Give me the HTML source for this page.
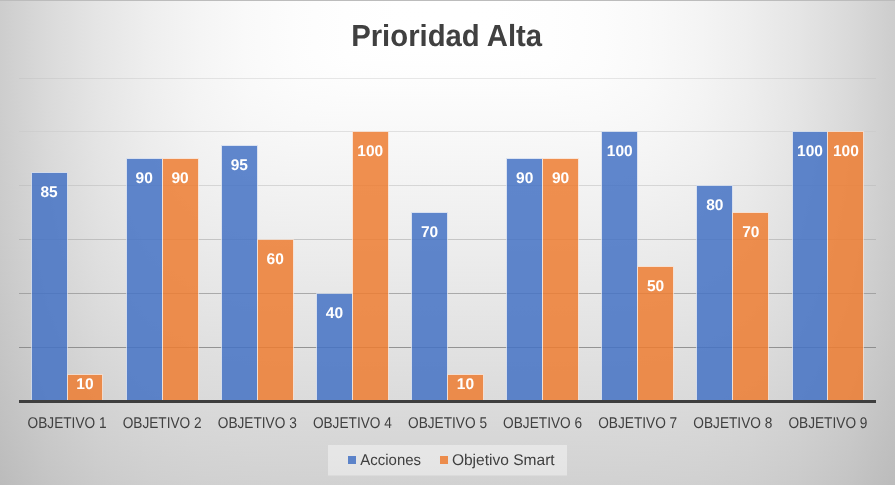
<!DOCTYPE html>
<html><head><meta charset="utf-8"><style>
html,body{margin:0;padding:0;}
body{width:895px;height:485px;overflow:hidden;position:relative;
background:#d0d0d0;}
svg{position:absolute;left:0;top:0;will-change:transform;}
#bg div{position:absolute;left:0;width:895px;}
.dl{font-family:"Liberation Sans",sans-serif;font-weight:bold;font-size:15.5px;fill:#ffffff;}
.cat{font-family:"Liberation Sans",sans-serif;font-size:15.5px;fill:#404040;}
.ttl{font-family:"Liberation Sans",sans-serif;font-weight:bold;font-size:30.5px;fill:#404040;}
.leg{font-family:"Liberation Sans",sans-serif;font-size:15.5px;fill:#404040;}
text{text-rendering:geometricPrecision;}
</style></head><body>
<div id="bg"><div style="top:1px;height:5px;background:linear-gradient(90deg,rgb(205.0,205.0,205.0) 0.0px,rgb(218.1,218.1,218.1) 47.5px,rgb(229.2,229.2,229.2) 97.5px,rgb(238.0,238.0,238.0) 147.5px,rgb(244.6,244.6,244.6) 197.5px,rgb(249.3,249.3,249.3) 247.5px,rgb(252.4,252.4,252.4) 297.5px,rgb(254.1,254.1,254.1) 347.5px,rgb(254.9,254.9,254.9) 397.5px,rgb(255.0,255.0,255.0) 447.5px,rgb(254.9,254.9,254.9) 497.5px,rgb(254.1,254.1,254.1) 547.5px,rgb(252.4,252.4,252.4) 597.5px,rgb(249.3,249.3,249.3) 647.5px,rgb(244.6,244.6,244.6) 697.5px,rgb(238.0,238.0,238.0) 747.5px,rgb(229.2,229.2,229.2) 797.5px,rgb(218.1,218.1,218.1) 847.5px,rgb(205.0,205.0,205.0) 895.0px)"></div><div style="top:6px;height:5px;background:linear-gradient(90deg,rgb(205.0,205.0,205.0) 0.0px,rgb(218.1,218.1,218.1) 47.5px,rgb(229.2,229.2,229.2) 97.5px,rgb(238.0,238.0,238.0) 147.5px,rgb(244.6,244.6,244.6) 197.5px,rgb(249.3,249.3,249.3) 247.5px,rgb(252.4,252.4,252.4) 297.5px,rgb(254.1,254.1,254.1) 347.5px,rgb(254.9,254.9,254.9) 397.5px,rgb(255.0,255.0,255.0) 447.5px,rgb(254.9,254.9,254.9) 497.5px,rgb(254.1,254.1,254.1) 547.5px,rgb(252.4,252.4,252.4) 597.5px,rgb(249.3,249.3,249.3) 647.5px,rgb(244.6,244.6,244.6) 697.5px,rgb(238.0,238.0,238.0) 747.5px,rgb(229.2,229.2,229.2) 797.5px,rgb(218.1,218.1,218.1) 847.5px,rgb(205.0,205.0,205.0) 895.0px)"></div><div style="top:11px;height:5px;background:linear-gradient(90deg,rgb(205.0,205.0,205.0) 0.0px,rgb(218.1,218.1,218.1) 47.5px,rgb(229.2,229.2,229.2) 97.5px,rgb(238.0,238.0,238.0) 147.5px,rgb(244.6,244.6,244.6) 197.5px,rgb(249.3,249.3,249.3) 247.5px,rgb(252.4,252.4,252.4) 297.5px,rgb(254.1,254.1,254.1) 347.5px,rgb(254.9,254.9,254.9) 397.5px,rgb(255.0,255.0,255.0) 447.5px,rgb(254.9,254.9,254.9) 497.5px,rgb(254.1,254.1,254.1) 547.5px,rgb(252.4,252.4,252.4) 597.5px,rgb(249.3,249.3,249.3) 647.5px,rgb(244.6,244.6,244.6) 697.5px,rgb(238.0,238.0,238.0) 747.5px,rgb(229.2,229.2,229.2) 797.5px,rgb(218.1,218.1,218.1) 847.5px,rgb(205.0,205.0,205.0) 895.0px)"></div><div style="top:16px;height:5px;background:linear-gradient(90deg,rgb(205.0,205.0,205.0) 0.0px,rgb(218.1,218.1,218.1) 47.5px,rgb(229.2,229.2,229.2) 97.5px,rgb(238.0,238.0,238.0) 147.5px,rgb(244.6,244.6,244.6) 197.5px,rgb(249.3,249.3,249.3) 247.5px,rgb(252.4,252.4,252.4) 297.5px,rgb(254.1,254.1,254.1) 347.5px,rgb(254.9,254.9,254.9) 397.5px,rgb(255.0,255.0,255.0) 447.5px,rgb(254.9,254.9,254.9) 497.5px,rgb(254.1,254.1,254.1) 547.5px,rgb(252.4,252.4,252.4) 597.5px,rgb(249.3,249.3,249.3) 647.5px,rgb(244.6,244.6,244.6) 697.5px,rgb(238.0,238.0,238.0) 747.5px,rgb(229.2,229.2,229.2) 797.5px,rgb(218.1,218.1,218.1) 847.5px,rgb(205.0,205.0,205.0) 895.0px)"></div><div style="top:21px;height:5px;background:linear-gradient(90deg,rgb(205.0,205.0,205.0) 0.0px,rgb(218.1,218.1,218.1) 47.5px,rgb(229.2,229.2,229.2) 97.5px,rgb(238.0,238.0,238.0) 147.5px,rgb(244.6,244.6,244.6) 197.5px,rgb(249.3,249.3,249.3) 247.5px,rgb(252.4,252.4,252.4) 297.5px,rgb(254.1,254.1,254.1) 347.5px,rgb(254.9,254.9,254.9) 397.5px,rgb(255.0,255.0,255.0) 447.5px,rgb(254.9,254.9,254.9) 497.5px,rgb(254.1,254.1,254.1) 547.5px,rgb(252.4,252.4,252.4) 597.5px,rgb(249.3,249.3,249.3) 647.5px,rgb(244.6,244.6,244.6) 697.5px,rgb(238.0,238.0,238.0) 747.5px,rgb(229.2,229.2,229.2) 797.5px,rgb(218.1,218.1,218.1) 847.5px,rgb(205.0,205.0,205.0) 895.0px)"></div><div style="top:26px;height:5px;background:linear-gradient(90deg,rgb(205.0,205.0,205.0) 0.0px,rgb(218.1,218.1,218.1) 47.5px,rgb(229.2,229.2,229.2) 97.5px,rgb(238.0,238.0,238.0) 147.5px,rgb(244.6,244.6,244.6) 197.5px,rgb(249.3,249.3,249.3) 247.5px,rgb(252.4,252.4,252.4) 297.5px,rgb(254.1,254.1,254.1) 347.5px,rgb(254.9,254.9,254.9) 397.5px,rgb(255.0,255.0,255.0) 447.5px,rgb(254.9,254.9,254.9) 497.5px,rgb(254.1,254.1,254.1) 547.5px,rgb(252.4,252.4,252.4) 597.5px,rgb(249.3,249.3,249.3) 647.5px,rgb(244.6,244.6,244.6) 697.5px,rgb(238.0,238.0,238.0) 747.5px,rgb(229.2,229.2,229.2) 797.5px,rgb(218.1,218.1,218.1) 847.5px,rgb(205.0,205.0,205.0) 895.0px)"></div><div style="top:31px;height:5px;background:linear-gradient(90deg,rgb(205.0,205.0,205.0) 0.0px,rgb(218.1,218.1,218.1) 47.5px,rgb(229.2,229.2,229.2) 97.5px,rgb(238.0,238.0,238.0) 147.5px,rgb(244.6,244.6,244.6) 197.5px,rgb(249.3,249.3,249.3) 247.5px,rgb(252.4,252.4,252.4) 297.5px,rgb(254.1,254.1,254.1) 347.5px,rgb(254.9,254.9,254.9) 397.5px,rgb(255.0,255.0,255.0) 447.5px,rgb(254.9,254.9,254.9) 497.5px,rgb(254.1,254.1,254.1) 547.5px,rgb(252.4,252.4,252.4) 597.5px,rgb(249.3,249.3,249.3) 647.5px,rgb(244.6,244.6,244.6) 697.5px,rgb(238.0,238.0,238.0) 747.5px,rgb(229.2,229.2,229.2) 797.5px,rgb(218.1,218.1,218.1) 847.5px,rgb(205.0,205.0,205.0) 895.0px)"></div><div style="top:36px;height:5px;background:linear-gradient(90deg,rgb(205.0,205.0,205.0) 0.0px,rgb(218.1,218.1,218.1) 47.5px,rgb(229.2,229.2,229.2) 97.5px,rgb(238.0,238.0,238.0) 147.5px,rgb(244.6,244.6,244.6) 197.5px,rgb(249.3,249.3,249.3) 247.5px,rgb(252.4,252.4,252.4) 297.5px,rgb(254.1,254.1,254.1) 347.5px,rgb(254.9,254.9,254.9) 397.5px,rgb(255.0,255.0,255.0) 447.5px,rgb(254.9,254.9,254.9) 497.5px,rgb(254.1,254.1,254.1) 547.5px,rgb(252.4,252.4,252.4) 597.5px,rgb(249.3,249.3,249.3) 647.5px,rgb(244.6,244.6,244.6) 697.5px,rgb(238.0,238.0,238.0) 747.5px,rgb(229.2,229.2,229.2) 797.5px,rgb(218.1,218.1,218.1) 847.5px,rgb(205.0,205.0,205.0) 895.0px)"></div><div style="top:41px;height:5px;background:linear-gradient(90deg,rgb(205.0,205.0,205.0) 0.0px,rgb(218.1,218.1,218.1) 47.5px,rgb(229.2,229.2,229.2) 97.5px,rgb(238.0,238.0,238.0) 147.5px,rgb(244.6,244.6,244.6) 197.5px,rgb(249.3,249.3,249.3) 247.5px,rgb(252.4,252.4,252.4) 297.5px,rgb(254.1,254.1,254.1) 347.5px,rgb(254.9,254.9,254.9) 397.5px,rgb(255.0,255.0,255.0) 447.5px,rgb(254.9,254.9,254.9) 497.5px,rgb(254.1,254.1,254.1) 547.5px,rgb(252.4,252.4,252.4) 597.5px,rgb(249.3,249.3,249.3) 647.5px,rgb(244.6,244.6,244.6) 697.5px,rgb(238.0,238.0,238.0) 747.5px,rgb(229.2,229.2,229.2) 797.5px,rgb(218.1,218.1,218.1) 847.5px,rgb(205.0,205.0,205.0) 895.0px)"></div><div style="top:46px;height:5px;background:linear-gradient(90deg,rgb(205.0,205.0,205.0) 0.0px,rgb(218.1,218.1,218.1) 47.5px,rgb(229.2,229.2,229.2) 97.5px,rgb(238.0,238.0,238.0) 147.5px,rgb(244.6,244.6,244.6) 197.5px,rgb(249.3,249.3,249.3) 247.5px,rgb(252.4,252.4,252.4) 297.5px,rgb(254.1,254.1,254.1) 347.5px,rgb(254.9,254.9,254.9) 397.5px,rgb(255.0,255.0,255.0) 447.5px,rgb(254.9,254.9,254.9) 497.5px,rgb(254.1,254.1,254.1) 547.5px,rgb(252.4,252.4,252.4) 597.5px,rgb(249.3,249.3,249.3) 647.5px,rgb(244.6,244.6,244.6) 697.5px,rgb(238.0,238.0,238.0) 747.5px,rgb(229.2,229.2,229.2) 797.5px,rgb(218.1,218.1,218.1) 847.5px,rgb(205.0,205.0,205.0) 895.0px)"></div><div style="top:51px;height:5px;background:linear-gradient(90deg,rgb(205.0,205.0,205.0) 0.0px,rgb(218.1,218.1,218.1) 47.5px,rgb(229.2,229.2,229.2) 97.5px,rgb(238.0,238.0,238.0) 147.5px,rgb(244.6,244.6,244.6) 197.5px,rgb(249.3,249.3,249.3) 247.5px,rgb(252.4,252.4,252.4) 297.5px,rgb(254.1,254.1,254.1) 347.5px,rgb(254.8,254.8,254.8) 397.5px,rgb(254.8,254.8,254.8) 447.5px,rgb(254.8,254.8,254.8) 497.5px,rgb(254.1,254.1,254.1) 547.5px,rgb(252.4,252.4,252.4) 597.5px,rgb(249.3,249.3,249.3) 647.5px,rgb(244.6,244.6,244.6) 697.5px,rgb(238.0,238.0,238.0) 747.5px,rgb(229.2,229.2,229.2) 797.5px,rgb(218.1,218.1,218.1) 847.5px,rgb(205.0,205.0,205.0) 895.0px)"></div><div style="top:56px;height:5px;background:linear-gradient(90deg,rgb(205.0,205.0,205.0) 0.0px,rgb(218.1,218.1,218.1) 47.5px,rgb(229.2,229.2,229.2) 97.5px,rgb(238.0,238.0,238.0) 147.5px,rgb(244.6,244.6,244.6) 197.5px,rgb(249.3,249.3,249.3) 247.5px,rgb(252.3,252.3,252.3) 297.5px,rgb(254.0,254.0,254.0) 347.5px,rgb(254.5,254.5,254.5) 397.5px,rgb(254.5,254.5,254.5) 447.5px,rgb(254.5,254.5,254.5) 497.5px,rgb(254.0,254.0,254.0) 547.5px,rgb(252.3,252.3,252.3) 597.5px,rgb(249.3,249.3,249.3) 647.5px,rgb(244.6,244.6,244.6) 697.5px,rgb(238.0,238.0,238.0) 747.5px,rgb(229.2,229.2,229.2) 797.5px,rgb(218.1,218.1,218.1) 847.5px,rgb(205.0,205.0,205.0) 895.0px)"></div><div style="top:61px;height:5px;background:linear-gradient(90deg,rgb(205.0,205.0,205.0) 0.0px,rgb(218.1,218.1,218.1) 47.5px,rgb(229.2,229.2,229.2) 97.5px,rgb(238.0,238.0,238.0) 147.5px,rgb(244.6,244.6,244.6) 197.5px,rgb(249.3,249.3,249.3) 247.5px,rgb(252.3,252.3,252.3) 297.5px,rgb(253.8,253.8,253.8) 347.5px,rgb(254.1,254.1,254.1) 397.5px,rgb(254.2,254.2,254.2) 447.5px,rgb(254.1,254.1,254.1) 497.5px,rgb(253.8,253.8,253.8) 547.5px,rgb(252.3,252.3,252.3) 597.5px,rgb(249.3,249.3,249.3) 647.5px,rgb(244.6,244.6,244.6) 697.5px,rgb(238.0,238.0,238.0) 747.5px,rgb(229.2,229.2,229.2) 797.5px,rgb(218.1,218.1,218.1) 847.5px,rgb(205.0,205.0,205.0) 895.0px)"></div><div style="top:66px;height:5px;background:linear-gradient(90deg,rgb(205.0,205.0,205.0) 0.0px,rgb(218.0,218.0,218.0) 47.5px,rgb(229.2,229.2,229.2) 97.5px,rgb(238.0,238.0,238.0) 147.5px,rgb(244.5,244.5,244.5) 197.5px,rgb(249.2,249.2,249.2) 247.5px,rgb(252.1,252.1,252.1) 297.5px,rgb(253.5,253.5,253.5) 347.5px,rgb(253.8,253.8,253.8) 397.5px,rgb(253.8,253.8,253.8) 447.5px,rgb(253.8,253.8,253.8) 497.5px,rgb(253.5,253.5,253.5) 547.5px,rgb(252.1,252.1,252.1) 597.5px,rgb(249.2,249.2,249.2) 647.5px,rgb(244.5,244.5,244.5) 697.5px,rgb(238.0,238.0,238.0) 747.5px,rgb(229.2,229.2,229.2) 797.5px,rgb(218.0,218.0,218.0) 847.5px,rgb(205.0,205.0,205.0) 895.0px)"></div><div style="top:71px;height:5px;background:linear-gradient(90deg,rgb(205.0,205.0,205.0) 0.0px,rgb(218.0,218.0,218.0) 47.5px,rgb(229.2,229.2,229.2) 97.5px,rgb(237.9,237.9,237.9) 147.5px,rgb(244.5,244.5,244.5) 197.5px,rgb(249.1,249.1,249.1) 247.5px,rgb(251.9,251.9,251.9) 297.5px,rgb(253.2,253.2,253.2) 347.5px,rgb(253.4,253.4,253.4) 397.5px,rgb(253.4,253.4,253.4) 447.5px,rgb(253.4,253.4,253.4) 497.5px,rgb(253.2,253.2,253.2) 547.5px,rgb(251.9,251.9,251.9) 597.5px,rgb(249.1,249.1,249.1) 647.5px,rgb(244.5,244.5,244.5) 697.5px,rgb(237.9,237.9,237.9) 747.5px,rgb(229.2,229.2,229.2) 797.5px,rgb(218.0,218.0,218.0) 847.5px,rgb(205.0,205.0,205.0) 895.0px)"></div><div style="top:76px;height:5px;background:linear-gradient(90deg,rgb(205.0,205.0,205.0) 0.0px,rgb(218.0,218.0,218.0) 47.5px,rgb(229.2,229.2,229.2) 97.5px,rgb(237.9,237.9,237.9) 147.5px,rgb(244.4,244.4,244.4) 197.5px,rgb(249.0,249.0,249.0) 247.5px,rgb(251.7,251.7,251.7) 297.5px,rgb(252.8,252.8,252.8) 347.5px,rgb(253.0,253.0,253.0) 397.5px,rgb(253.0,253.0,253.0) 447.5px,rgb(253.0,253.0,253.0) 497.5px,rgb(252.8,252.8,252.8) 547.5px,rgb(251.7,251.7,251.7) 597.5px,rgb(249.0,249.0,249.0) 647.5px,rgb(244.4,244.4,244.4) 697.5px,rgb(237.9,237.9,237.9) 747.5px,rgb(229.2,229.2,229.2) 797.5px,rgb(218.0,218.0,218.0) 847.5px,rgb(205.0,205.0,205.0) 895.0px)"></div><div style="top:81px;height:5px;background:linear-gradient(90deg,rgb(204.9,204.9,204.9) 0.0px,rgb(218.0,218.0,218.0) 47.5px,rgb(229.1,229.1,229.1) 97.5px,rgb(237.8,237.8,237.8) 147.5px,rgb(244.3,244.3,244.3) 197.5px,rgb(248.8,248.8,248.8) 247.5px,rgb(251.5,251.5,251.5) 297.5px,rgb(252.5,252.5,252.5) 347.5px,rgb(252.6,252.6,252.6) 397.5px,rgb(252.6,252.6,252.6) 447.5px,rgb(252.6,252.6,252.6) 497.5px,rgb(252.5,252.5,252.5) 547.5px,rgb(251.5,251.5,251.5) 597.5px,rgb(248.8,248.8,248.8) 647.5px,rgb(244.3,244.3,244.3) 697.5px,rgb(237.8,237.8,237.8) 747.5px,rgb(229.1,229.1,229.1) 797.5px,rgb(218.0,218.0,218.0) 847.5px,rgb(204.9,204.9,204.9) 895.0px)"></div><div style="top:86px;height:5px;background:linear-gradient(90deg,rgb(204.9,204.9,204.9) 0.0px,rgb(218.0,218.0,218.0) 47.5px,rgb(229.1,229.1,229.1) 97.5px,rgb(237.8,237.8,237.8) 147.5px,rgb(244.2,244.2,244.2) 197.5px,rgb(248.7,248.7,248.7) 247.5px,rgb(251.2,251.2,251.2) 297.5px,rgb(252.1,252.1,252.1) 347.5px,rgb(252.2,252.2,252.2) 397.5px,rgb(252.2,252.2,252.2) 447.5px,rgb(252.2,252.2,252.2) 497.5px,rgb(252.1,252.1,252.1) 547.5px,rgb(251.2,251.2,251.2) 597.5px,rgb(248.7,248.7,248.7) 647.5px,rgb(244.2,244.2,244.2) 697.5px,rgb(237.8,237.8,237.8) 747.5px,rgb(229.1,229.1,229.1) 797.5px,rgb(218.0,218.0,218.0) 847.5px,rgb(204.9,204.9,204.9) 895.0px)"></div><div style="top:91px;height:5px;background:linear-gradient(90deg,rgb(204.9,204.9,204.9) 0.0px,rgb(217.9,217.9,217.9) 47.5px,rgb(229.0,229.0,229.0) 97.5px,rgb(237.7,237.7,237.7) 147.5px,rgb(244.1,244.1,244.1) 197.5px,rgb(248.5,248.5,248.5) 247.5px,rgb(250.8,250.8,250.8) 297.5px,rgb(251.7,251.7,251.7) 347.5px,rgb(251.8,251.8,251.8) 397.5px,rgb(251.8,251.8,251.8) 447.5px,rgb(251.8,251.8,251.8) 497.5px,rgb(251.7,251.7,251.7) 547.5px,rgb(250.8,250.8,250.8) 597.5px,rgb(248.5,248.5,248.5) 647.5px,rgb(244.1,244.1,244.1) 697.5px,rgb(237.7,237.7,237.7) 747.5px,rgb(229.0,229.0,229.0) 797.5px,rgb(217.9,217.9,217.9) 847.5px,rgb(204.9,204.9,204.9) 895.0px)"></div><div style="top:96px;height:5px;background:linear-gradient(90deg,rgb(204.9,204.9,204.9) 0.0px,rgb(217.9,217.9,217.9) 47.5px,rgb(229.0,229.0,229.0) 97.5px,rgb(237.6,237.6,237.6) 147.5px,rgb(244.0,244.0,244.0) 197.5px,rgb(248.2,248.2,248.2) 247.5px,rgb(250.5,250.5,250.5) 297.5px,rgb(251.2,251.2,251.2) 347.5px,rgb(251.3,251.3,251.3) 397.5px,rgb(251.3,251.3,251.3) 447.5px,rgb(251.3,251.3,251.3) 497.5px,rgb(251.2,251.2,251.2) 547.5px,rgb(250.5,250.5,250.5) 597.5px,rgb(248.2,248.2,248.2) 647.5px,rgb(244.0,244.0,244.0) 697.5px,rgb(237.6,237.6,237.6) 747.5px,rgb(229.0,229.0,229.0) 797.5px,rgb(217.9,217.9,217.9) 847.5px,rgb(204.9,204.9,204.9) 895.0px)"></div><div style="top:101px;height:5px;background:linear-gradient(90deg,rgb(204.8,204.8,204.8) 0.0px,rgb(217.8,217.8,217.8) 47.5px,rgb(228.9,228.9,228.9) 97.5px,rgb(237.5,237.5,237.5) 147.5px,rgb(243.8,243.8,243.8) 197.5px,rgb(248.0,248.0,248.0) 247.5px,rgb(250.1,250.1,250.1) 297.5px,rgb(250.8,250.8,250.8) 347.5px,rgb(250.9,250.9,250.9) 397.5px,rgb(250.9,250.9,250.9) 447.5px,rgb(250.9,250.9,250.9) 497.5px,rgb(250.8,250.8,250.8) 547.5px,rgb(250.1,250.1,250.1) 597.5px,rgb(248.0,248.0,248.0) 647.5px,rgb(243.8,243.8,243.8) 697.5px,rgb(237.5,237.5,237.5) 747.5px,rgb(228.9,228.9,228.9) 797.5px,rgb(217.8,217.8,217.8) 847.5px,rgb(204.8,204.8,204.8) 895.0px)"></div><div style="top:106px;height:5px;background:linear-gradient(90deg,rgb(204.8,204.8,204.8) 0.0px,rgb(217.8,217.8,217.8) 47.5px,rgb(228.9,228.9,228.9) 97.5px,rgb(237.4,237.4,237.4) 147.5px,rgb(243.7,243.7,243.7) 197.5px,rgb(247.7,247.7,247.7) 247.5px,rgb(249.8,249.8,249.8) 297.5px,rgb(250.4,250.4,250.4) 347.5px,rgb(250.5,250.5,250.5) 397.5px,rgb(250.5,250.5,250.5) 447.5px,rgb(250.5,250.5,250.5) 497.5px,rgb(250.4,250.4,250.4) 547.5px,rgb(249.8,249.8,249.8) 597.5px,rgb(247.7,247.7,247.7) 647.5px,rgb(243.7,243.7,243.7) 697.5px,rgb(237.4,237.4,237.4) 747.5px,rgb(228.9,228.9,228.9) 797.5px,rgb(217.8,217.8,217.8) 847.5px,rgb(204.8,204.8,204.8) 895.0px)"></div><div style="top:111px;height:5px;background:linear-gradient(90deg,rgb(204.8,204.8,204.8) 0.0px,rgb(217.7,217.7,217.7) 47.5px,rgb(228.8,228.8,228.8) 97.5px,rgb(237.3,237.3,237.3) 147.5px,rgb(243.5,243.5,243.5) 197.5px,rgb(247.4,247.4,247.4) 247.5px,rgb(249.4,249.4,249.4) 297.5px,rgb(249.9,249.9,249.9) 347.5px,rgb(250.0,250.0,250.0) 397.5px,rgb(250.0,250.0,250.0) 447.5px,rgb(250.0,250.0,250.0) 497.5px,rgb(249.9,249.9,249.9) 547.5px,rgb(249.4,249.4,249.4) 597.5px,rgb(247.4,247.4,247.4) 647.5px,rgb(243.5,243.5,243.5) 697.5px,rgb(237.3,237.3,237.3) 747.5px,rgb(228.8,228.8,228.8) 797.5px,rgb(217.7,217.7,217.7) 847.5px,rgb(204.8,204.8,204.8) 895.0px)"></div><div style="top:116px;height:5px;background:linear-gradient(90deg,rgb(204.7,204.7,204.7) 0.0px,rgb(217.7,217.7,217.7) 47.5px,rgb(228.7,228.7,228.7) 97.5px,rgb(237.2,237.2,237.2) 147.5px,rgb(243.3,243.3,243.3) 197.5px,rgb(247.1,247.1,247.1) 247.5px,rgb(249.0,249.0,249.0) 297.5px,rgb(249.5,249.5,249.5) 347.5px,rgb(249.6,249.6,249.6) 397.5px,rgb(249.6,249.6,249.6) 447.5px,rgb(249.6,249.6,249.6) 497.5px,rgb(249.5,249.5,249.5) 547.5px,rgb(249.0,249.0,249.0) 597.5px,rgb(247.1,247.1,247.1) 647.5px,rgb(243.3,243.3,243.3) 697.5px,rgb(237.2,237.2,237.2) 747.5px,rgb(228.7,228.7,228.7) 797.5px,rgb(217.7,217.7,217.7) 847.5px,rgb(204.7,204.7,204.7) 895.0px)"></div><div style="top:121px;height:5px;background:linear-gradient(90deg,rgb(204.7,204.7,204.7) 0.0px,rgb(217.6,217.6,217.6) 47.5px,rgb(228.6,228.6,228.6) 97.5px,rgb(237.0,237.0,237.0) 147.5px,rgb(243.1,243.1,243.1) 197.5px,rgb(246.8,246.8,246.8) 247.5px,rgb(248.5,248.5,248.5) 297.5px,rgb(249.0,249.0,249.0) 347.5px,rgb(249.1,249.1,249.1) 397.5px,rgb(249.1,249.1,249.1) 447.5px,rgb(249.1,249.1,249.1) 497.5px,rgb(249.0,249.0,249.0) 547.5px,rgb(248.5,248.5,248.5) 597.5px,rgb(246.8,246.8,246.8) 647.5px,rgb(243.1,243.1,243.1) 697.5px,rgb(237.0,237.0,237.0) 747.5px,rgb(228.6,228.6,228.6) 797.5px,rgb(217.6,217.6,217.6) 847.5px,rgb(204.7,204.7,204.7) 895.0px)"></div><div style="top:126px;height:5px;background:linear-gradient(90deg,rgb(204.6,204.6,204.6) 0.0px,rgb(217.5,217.5,217.5) 47.5px,rgb(228.5,228.5,228.5) 97.5px,rgb(236.9,236.9,236.9) 147.5px,rgb(242.8,242.8,242.8) 197.5px,rgb(246.5,246.5,246.5) 247.5px,rgb(248.1,248.1,248.1) 297.5px,rgb(248.6,248.6,248.6) 347.5px,rgb(248.6,248.6,248.6) 397.5px,rgb(248.6,248.6,248.6) 447.5px,rgb(248.6,248.6,248.6) 497.5px,rgb(248.6,248.6,248.6) 547.5px,rgb(248.1,248.1,248.1) 597.5px,rgb(246.5,246.5,246.5) 647.5px,rgb(242.8,242.8,242.8) 697.5px,rgb(236.9,236.9,236.9) 747.5px,rgb(228.5,228.5,228.5) 797.5px,rgb(217.5,217.5,217.5) 847.5px,rgb(204.6,204.6,204.6) 895.0px)"></div><div style="top:131px;height:5px;background:linear-gradient(90deg,rgb(204.5,204.5,204.5) 0.0px,rgb(217.4,217.4,217.4) 47.5px,rgb(228.4,228.4,228.4) 97.5px,rgb(236.7,236.7,236.7) 147.5px,rgb(242.6,242.6,242.6) 197.5px,rgb(246.1,246.1,246.1) 247.5px,rgb(247.7,247.7,247.7) 297.5px,rgb(248.1,248.1,248.1) 347.5px,rgb(248.2,248.2,248.2) 397.5px,rgb(248.2,248.2,248.2) 447.5px,rgb(248.2,248.2,248.2) 497.5px,rgb(248.1,248.1,248.1) 547.5px,rgb(247.7,247.7,247.7) 597.5px,rgb(246.1,246.1,246.1) 647.5px,rgb(242.6,242.6,242.6) 697.5px,rgb(236.7,236.7,236.7) 747.5px,rgb(228.4,228.4,228.4) 797.5px,rgb(217.4,217.4,217.4) 847.5px,rgb(204.5,204.5,204.5) 895.0px)"></div><div style="top:136px;height:5px;background:linear-gradient(90deg,rgb(204.5,204.5,204.5) 0.0px,rgb(217.4,217.4,217.4) 47.5px,rgb(228.2,228.2,228.2) 97.5px,rgb(236.5,236.5,236.5) 147.5px,rgb(242.3,242.3,242.3) 197.5px,rgb(245.7,245.7,245.7) 247.5px,rgb(247.2,247.2,247.2) 297.5px,rgb(247.6,247.6,247.6) 347.5px,rgb(247.7,247.7,247.7) 397.5px,rgb(247.7,247.7,247.7) 447.5px,rgb(247.7,247.7,247.7) 497.5px,rgb(247.6,247.6,247.6) 547.5px,rgb(247.2,247.2,247.2) 597.5px,rgb(245.7,245.7,245.7) 647.5px,rgb(242.3,242.3,242.3) 697.5px,rgb(236.5,236.5,236.5) 747.5px,rgb(228.2,228.2,228.2) 797.5px,rgb(217.4,217.4,217.4) 847.5px,rgb(204.5,204.5,204.5) 895.0px)"></div><div style="top:141px;height:5px;background:linear-gradient(90deg,rgb(204.4,204.4,204.4) 0.0px,rgb(217.3,217.3,217.3) 47.5px,rgb(228.1,228.1,228.1) 97.5px,rgb(236.3,236.3,236.3) 147.5px,rgb(242.0,242.0,242.0) 197.5px,rgb(245.4,245.4,245.4) 247.5px,rgb(246.8,246.8,246.8) 297.5px,rgb(247.2,247.2,247.2) 347.5px,rgb(247.2,247.2,247.2) 397.5px,rgb(247.2,247.2,247.2) 447.5px,rgb(247.2,247.2,247.2) 497.5px,rgb(247.2,247.2,247.2) 547.5px,rgb(246.8,246.8,246.8) 597.5px,rgb(245.4,245.4,245.4) 647.5px,rgb(242.0,242.0,242.0) 697.5px,rgb(236.3,236.3,236.3) 747.5px,rgb(228.1,228.1,228.1) 797.5px,rgb(217.3,217.3,217.3) 847.5px,rgb(204.4,204.4,204.4) 895.0px)"></div><div style="top:146px;height:5px;background:linear-gradient(90deg,rgb(204.3,204.3,204.3) 0.0px,rgb(217.2,217.2,217.2) 47.5px,rgb(228.0,228.0,228.0) 97.5px,rgb(236.1,236.1,236.1) 147.5px,rgb(241.7,241.7,241.7) 197.5px,rgb(245.0,245.0,245.0) 247.5px,rgb(246.3,246.3,246.3) 297.5px,rgb(246.7,246.7,246.7) 347.5px,rgb(246.7,246.7,246.7) 397.5px,rgb(246.7,246.7,246.7) 447.5px,rgb(246.7,246.7,246.7) 497.5px,rgb(246.7,246.7,246.7) 547.5px,rgb(246.3,246.3,246.3) 597.5px,rgb(245.0,245.0,245.0) 647.5px,rgb(241.7,241.7,241.7) 697.5px,rgb(236.1,236.1,236.1) 747.5px,rgb(228.0,228.0,228.0) 797.5px,rgb(217.2,217.2,217.2) 847.5px,rgb(204.3,204.3,204.3) 895.0px)"></div><div style="top:151px;height:5px;background:linear-gradient(90deg,rgb(204.2,204.2,204.2) 0.0px,rgb(217.0,217.0,217.0) 47.5px,rgb(227.8,227.8,227.8) 97.5px,rgb(235.9,235.9,235.9) 147.5px,rgb(241.4,241.4,241.4) 197.5px,rgb(244.6,244.6,244.6) 247.5px,rgb(245.9,245.9,245.9) 297.5px,rgb(246.2,246.2,246.2) 347.5px,rgb(246.3,246.3,246.3) 397.5px,rgb(246.3,246.3,246.3) 447.5px,rgb(246.3,246.3,246.3) 497.5px,rgb(246.2,246.2,246.2) 547.5px,rgb(245.9,245.9,245.9) 597.5px,rgb(244.6,244.6,244.6) 647.5px,rgb(241.4,241.4,241.4) 697.5px,rgb(235.9,235.9,235.9) 747.5px,rgb(227.8,227.8,227.8) 797.5px,rgb(217.0,217.0,217.0) 847.5px,rgb(204.2,204.2,204.2) 895.0px)"></div><div style="top:156px;height:5px;background:linear-gradient(90deg,rgb(204.2,204.2,204.2) 0.0px,rgb(216.9,216.9,216.9) 47.5px,rgb(227.6,227.6,227.6) 97.5px,rgb(235.7,235.7,235.7) 147.5px,rgb(241.1,241.1,241.1) 197.5px,rgb(244.2,244.2,244.2) 247.5px,rgb(245.4,245.4,245.4) 297.5px,rgb(245.7,245.7,245.7) 347.5px,rgb(245.8,245.8,245.8) 397.5px,rgb(245.8,245.8,245.8) 447.5px,rgb(245.8,245.8,245.8) 497.5px,rgb(245.7,245.7,245.7) 547.5px,rgb(245.4,245.4,245.4) 597.5px,rgb(244.2,244.2,244.2) 647.5px,rgb(241.1,241.1,241.1) 697.5px,rgb(235.7,235.7,235.7) 747.5px,rgb(227.6,227.6,227.6) 797.5px,rgb(216.9,216.9,216.9) 847.5px,rgb(204.2,204.2,204.2) 895.0px)"></div><div style="top:161px;height:5px;background:linear-gradient(90deg,rgb(204.1,204.1,204.1) 0.0px,rgb(216.8,216.8,216.8) 47.5px,rgb(227.5,227.5,227.5) 97.5px,rgb(235.4,235.4,235.4) 147.5px,rgb(240.8,240.8,240.8) 197.5px,rgb(243.7,243.7,243.7) 247.5px,rgb(244.9,244.9,244.9) 297.5px,rgb(245.2,245.2,245.2) 347.5px,rgb(245.3,245.3,245.3) 397.5px,rgb(245.3,245.3,245.3) 447.5px,rgb(245.3,245.3,245.3) 497.5px,rgb(245.2,245.2,245.2) 547.5px,rgb(244.9,244.9,244.9) 597.5px,rgb(243.7,243.7,243.7) 647.5px,rgb(240.8,240.8,240.8) 697.5px,rgb(235.4,235.4,235.4) 747.5px,rgb(227.5,227.5,227.5) 797.5px,rgb(216.8,216.8,216.8) 847.5px,rgb(204.1,204.1,204.1) 895.0px)"></div><div style="top:166px;height:5px;background:linear-gradient(90deg,rgb(204.0,204.0,204.0) 0.0px,rgb(216.7,216.7,216.7) 47.5px,rgb(227.3,227.3,227.3) 97.5px,rgb(235.2,235.2,235.2) 147.5px,rgb(240.4,240.4,240.4) 197.5px,rgb(243.3,243.3,243.3) 247.5px,rgb(244.4,244.4,244.4) 297.5px,rgb(244.7,244.7,244.7) 347.5px,rgb(244.8,244.8,244.8) 397.5px,rgb(244.8,244.8,244.8) 447.5px,rgb(244.8,244.8,244.8) 497.5px,rgb(244.7,244.7,244.7) 547.5px,rgb(244.4,244.4,244.4) 597.5px,rgb(243.3,243.3,243.3) 647.5px,rgb(240.4,240.4,240.4) 697.5px,rgb(235.2,235.2,235.2) 747.5px,rgb(227.3,227.3,227.3) 797.5px,rgb(216.7,216.7,216.7) 847.5px,rgb(204.0,204.0,204.0) 895.0px)"></div><div style="top:171px;height:5px;background:linear-gradient(90deg,rgb(203.9,203.9,203.9) 0.0px,rgb(216.5,216.5,216.5) 47.5px,rgb(227.1,227.1,227.1) 97.5px,rgb(234.9,234.9,234.9) 147.5px,rgb(240.1,240.1,240.1) 197.5px,rgb(242.9,242.9,242.9) 247.5px,rgb(244.0,244.0,244.0) 297.5px,rgb(244.2,244.2,244.2) 347.5px,rgb(244.3,244.3,244.3) 397.5px,rgb(244.3,244.3,244.3) 447.5px,rgb(244.3,244.3,244.3) 497.5px,rgb(244.2,244.2,244.2) 547.5px,rgb(244.0,244.0,244.0) 597.5px,rgb(242.9,242.9,242.9) 647.5px,rgb(240.1,240.1,240.1) 697.5px,rgb(234.9,234.9,234.9) 747.5px,rgb(227.1,227.1,227.1) 797.5px,rgb(216.5,216.5,216.5) 847.5px,rgb(203.9,203.9,203.9) 895.0px)"></div><div style="top:176px;height:5px;background:linear-gradient(90deg,rgb(203.8,203.8,203.8) 0.0px,rgb(216.4,216.4,216.4) 47.5px,rgb(226.9,226.9,226.9) 97.5px,rgb(234.6,234.6,234.6) 147.5px,rgb(239.7,239.7,239.7) 197.5px,rgb(242.4,242.4,242.4) 247.5px,rgb(243.5,243.5,243.5) 297.5px,rgb(243.7,243.7,243.7) 347.5px,rgb(243.8,243.8,243.8) 397.5px,rgb(243.8,243.8,243.8) 447.5px,rgb(243.8,243.8,243.8) 497.5px,rgb(243.7,243.7,243.7) 547.5px,rgb(243.5,243.5,243.5) 597.5px,rgb(242.4,242.4,242.4) 647.5px,rgb(239.7,239.7,239.7) 697.5px,rgb(234.6,234.6,234.6) 747.5px,rgb(226.9,226.9,226.9) 797.5px,rgb(216.4,216.4,216.4) 847.5px,rgb(203.8,203.8,203.8) 895.0px)"></div><div style="top:181px;height:5px;background:linear-gradient(90deg,rgb(203.6,203.6,203.6) 0.0px,rgb(216.3,216.3,216.3) 47.5px,rgb(226.7,226.7,226.7) 97.5px,rgb(234.4,234.4,234.4) 147.5px,rgb(239.3,239.3,239.3) 197.5px,rgb(242.0,242.0,242.0) 247.5px,rgb(243.0,243.0,243.0) 297.5px,rgb(243.2,243.2,243.2) 347.5px,rgb(243.3,243.3,243.3) 397.5px,rgb(243.3,243.3,243.3) 447.5px,rgb(243.3,243.3,243.3) 497.5px,rgb(243.2,243.2,243.2) 547.5px,rgb(243.0,243.0,243.0) 597.5px,rgb(242.0,242.0,242.0) 647.5px,rgb(239.3,239.3,239.3) 697.5px,rgb(234.4,234.4,234.4) 747.5px,rgb(226.7,226.7,226.7) 797.5px,rgb(216.3,216.3,216.3) 847.5px,rgb(203.6,203.6,203.6) 895.0px)"></div><div style="top:186px;height:5px;background:linear-gradient(90deg,rgb(203.5,203.5,203.5) 0.0px,rgb(216.1,216.1,216.1) 47.5px,rgb(226.5,226.5,226.5) 97.5px,rgb(234.1,234.1,234.1) 147.5px,rgb(239.0,239.0,239.0) 197.5px,rgb(241.5,241.5,241.5) 247.5px,rgb(242.5,242.5,242.5) 297.5px,rgb(242.7,242.7,242.7) 347.5px,rgb(242.8,242.8,242.8) 397.5px,rgb(242.8,242.8,242.8) 447.5px,rgb(242.8,242.8,242.8) 497.5px,rgb(242.7,242.7,242.7) 547.5px,rgb(242.5,242.5,242.5) 597.5px,rgb(241.5,241.5,241.5) 647.5px,rgb(239.0,239.0,239.0) 697.5px,rgb(234.1,234.1,234.1) 747.5px,rgb(226.5,226.5,226.5) 797.5px,rgb(216.1,216.1,216.1) 847.5px,rgb(203.5,203.5,203.5) 895.0px)"></div><div style="top:191px;height:5px;background:linear-gradient(90deg,rgb(203.4,203.4,203.4) 0.0px,rgb(215.9,215.9,215.9) 47.5px,rgb(226.3,226.3,226.3) 97.5px,rgb(233.8,233.8,233.8) 147.5px,rgb(238.6,238.6,238.6) 197.5px,rgb(241.1,241.1,241.1) 247.5px,rgb(242.0,242.0,242.0) 297.5px,rgb(242.2,242.2,242.2) 347.5px,rgb(242.3,242.3,242.3) 397.5px,rgb(242.3,242.3,242.3) 447.5px,rgb(242.3,242.3,242.3) 497.5px,rgb(242.2,242.2,242.2) 547.5px,rgb(242.0,242.0,242.0) 597.5px,rgb(241.1,241.1,241.1) 647.5px,rgb(238.6,238.6,238.6) 697.5px,rgb(233.8,233.8,233.8) 747.5px,rgb(226.3,226.3,226.3) 797.5px,rgb(215.9,215.9,215.9) 847.5px,rgb(203.4,203.4,203.4) 895.0px)"></div><div style="top:196px;height:5px;background:linear-gradient(90deg,rgb(203.3,203.3,203.3) 0.0px,rgb(215.8,215.8,215.8) 47.5px,rgb(226.0,226.0,226.0) 97.5px,rgb(233.5,233.5,233.5) 147.5px,rgb(238.2,238.2,238.2) 197.5px,rgb(240.6,240.6,240.6) 247.5px,rgb(241.5,241.5,241.5) 297.5px,rgb(241.7,241.7,241.7) 347.5px,rgb(241.7,241.7,241.7) 397.5px,rgb(241.8,241.8,241.8) 447.5px,rgb(241.7,241.7,241.7) 497.5px,rgb(241.7,241.7,241.7) 547.5px,rgb(241.5,241.5,241.5) 597.5px,rgb(240.6,240.6,240.6) 647.5px,rgb(238.2,238.2,238.2) 697.5px,rgb(233.5,233.5,233.5) 747.5px,rgb(226.0,226.0,226.0) 797.5px,rgb(215.8,215.8,215.8) 847.5px,rgb(203.3,203.3,203.3) 895.0px)"></div><div style="top:201px;height:5px;background:linear-gradient(90deg,rgb(203.1,203.1,203.1) 0.0px,rgb(215.6,215.6,215.6) 47.5px,rgb(225.8,225.8,225.8) 97.5px,rgb(233.1,233.1,233.1) 147.5px,rgb(237.8,237.8,237.8) 197.5px,rgb(240.1,240.1,240.1) 247.5px,rgb(241.0,241.0,241.0) 297.5px,rgb(241.2,241.2,241.2) 347.5px,rgb(241.2,241.2,241.2) 397.5px,rgb(241.2,241.2,241.2) 447.5px,rgb(241.2,241.2,241.2) 497.5px,rgb(241.2,241.2,241.2) 547.5px,rgb(241.0,241.0,241.0) 597.5px,rgb(240.1,240.1,240.1) 647.5px,rgb(237.8,237.8,237.8) 697.5px,rgb(233.1,233.1,233.1) 747.5px,rgb(225.8,225.8,225.8) 797.5px,rgb(215.6,215.6,215.6) 847.5px,rgb(203.1,203.1,203.1) 895.0px)"></div><div style="top:206px;height:5px;background:linear-gradient(90deg,rgb(203.0,203.0,203.0) 0.0px,rgb(215.4,215.4,215.4) 47.5px,rgb(225.6,225.6,225.6) 97.5px,rgb(232.8,232.8,232.8) 147.5px,rgb(237.3,237.3,237.3) 197.5px,rgb(239.6,239.6,239.6) 247.5px,rgb(240.5,240.5,240.5) 297.5px,rgb(240.7,240.7,240.7) 347.5px,rgb(240.7,240.7,240.7) 397.5px,rgb(240.7,240.7,240.7) 447.5px,rgb(240.7,240.7,240.7) 497.5px,rgb(240.7,240.7,240.7) 547.5px,rgb(240.5,240.5,240.5) 597.5px,rgb(239.6,239.6,239.6) 647.5px,rgb(237.3,237.3,237.3) 697.5px,rgb(232.8,232.8,232.8) 747.5px,rgb(225.6,225.6,225.6) 797.5px,rgb(215.4,215.4,215.4) 847.5px,rgb(203.0,203.0,203.0) 895.0px)"></div><div style="top:211px;height:5px;background:linear-gradient(90deg,rgb(202.9,202.9,202.9) 0.0px,rgb(215.2,215.2,215.2) 47.5px,rgb(225.3,225.3,225.3) 97.5px,rgb(232.5,232.5,232.5) 147.5px,rgb(236.9,236.9,236.9) 197.5px,rgb(239.1,239.1,239.1) 247.5px,rgb(240.0,240.0,240.0) 297.5px,rgb(240.2,240.2,240.2) 347.5px,rgb(240.2,240.2,240.2) 397.5px,rgb(240.2,240.2,240.2) 447.5px,rgb(240.2,240.2,240.2) 497.5px,rgb(240.2,240.2,240.2) 547.5px,rgb(240.0,240.0,240.0) 597.5px,rgb(239.1,239.1,239.1) 647.5px,rgb(236.9,236.9,236.9) 697.5px,rgb(232.5,232.5,232.5) 747.5px,rgb(225.3,225.3,225.3) 797.5px,rgb(215.2,215.2,215.2) 847.5px,rgb(202.9,202.9,202.9) 895.0px)"></div><div style="top:216px;height:5px;background:linear-gradient(90deg,rgb(202.7,202.7,202.7) 0.0px,rgb(215.0,215.0,215.0) 47.5px,rgb(225.0,225.0,225.0) 97.5px,rgb(232.1,232.1,232.1) 147.5px,rgb(236.5,236.5,236.5) 197.5px,rgb(238.7,238.7,238.7) 247.5px,rgb(239.5,239.5,239.5) 297.5px,rgb(239.7,239.7,239.7) 347.5px,rgb(239.7,239.7,239.7) 397.5px,rgb(239.7,239.7,239.7) 447.5px,rgb(239.7,239.7,239.7) 497.5px,rgb(239.7,239.7,239.7) 547.5px,rgb(239.5,239.5,239.5) 597.5px,rgb(238.7,238.7,238.7) 647.5px,rgb(236.5,236.5,236.5) 697.5px,rgb(232.1,232.1,232.1) 747.5px,rgb(225.0,225.0,225.0) 797.5px,rgb(215.0,215.0,215.0) 847.5px,rgb(202.7,202.7,202.7) 895.0px)"></div><div style="top:221px;height:5px;background:linear-gradient(90deg,rgb(202.5,202.5,202.5) 0.0px,rgb(214.8,214.8,214.8) 47.5px,rgb(224.8,224.8,224.8) 97.5px,rgb(231.8,231.8,231.8) 147.5px,rgb(236.1,236.1,236.1) 197.5px,rgb(238.2,238.2,238.2) 247.5px,rgb(238.9,238.9,238.9) 297.5px,rgb(239.1,239.1,239.1) 347.5px,rgb(239.2,239.2,239.2) 397.5px,rgb(239.2,239.2,239.2) 447.5px,rgb(239.2,239.2,239.2) 497.5px,rgb(239.1,239.1,239.1) 547.5px,rgb(238.9,238.9,238.9) 597.5px,rgb(238.2,238.2,238.2) 647.5px,rgb(236.1,236.1,236.1) 697.5px,rgb(231.8,231.8,231.8) 747.5px,rgb(224.8,224.8,224.8) 797.5px,rgb(214.8,214.8,214.8) 847.5px,rgb(202.5,202.5,202.5) 895.0px)"></div><div style="top:226px;height:5px;background:linear-gradient(90deg,rgb(202.4,202.4,202.4) 0.0px,rgb(214.6,214.6,214.6) 47.5px,rgb(224.5,224.5,224.5) 97.5px,rgb(231.4,231.4,231.4) 147.5px,rgb(235.6,235.6,235.6) 197.5px,rgb(237.7,237.7,237.7) 247.5px,rgb(238.4,238.4,238.4) 297.5px,rgb(238.6,238.6,238.6) 347.5px,rgb(238.6,238.6,238.6) 397.5px,rgb(238.6,238.6,238.6) 447.5px,rgb(238.6,238.6,238.6) 497.5px,rgb(238.6,238.6,238.6) 547.5px,rgb(238.4,238.4,238.4) 597.5px,rgb(237.7,237.7,237.7) 647.5px,rgb(235.6,235.6,235.6) 697.5px,rgb(231.4,231.4,231.4) 747.5px,rgb(224.5,224.5,224.5) 797.5px,rgb(214.6,214.6,214.6) 847.5px,rgb(202.4,202.4,202.4) 895.0px)"></div><div style="top:231px;height:5px;background:linear-gradient(90deg,rgb(202.2,202.2,202.2) 0.0px,rgb(214.4,214.4,214.4) 47.5px,rgb(224.2,224.2,224.2) 97.5px,rgb(231.0,231.0,231.0) 147.5px,rgb(235.2,235.2,235.2) 197.5px,rgb(237.2,237.2,237.2) 247.5px,rgb(237.9,237.9,237.9) 297.5px,rgb(238.1,238.1,238.1) 347.5px,rgb(238.1,238.1,238.1) 397.5px,rgb(238.1,238.1,238.1) 447.5px,rgb(238.1,238.1,238.1) 497.5px,rgb(238.1,238.1,238.1) 547.5px,rgb(237.9,237.9,237.9) 597.5px,rgb(237.2,237.2,237.2) 647.5px,rgb(235.2,235.2,235.2) 697.5px,rgb(231.0,231.0,231.0) 747.5px,rgb(224.2,224.2,224.2) 797.5px,rgb(214.4,214.4,214.4) 847.5px,rgb(202.2,202.2,202.2) 895.0px)"></div><div style="top:236px;height:5px;background:linear-gradient(90deg,rgb(202.0,202.0,202.0) 0.0px,rgb(214.2,214.2,214.2) 47.5px,rgb(223.9,223.9,223.9) 97.5px,rgb(230.7,230.7,230.7) 147.5px,rgb(234.7,234.7,234.7) 197.5px,rgb(236.7,236.7,236.7) 247.5px,rgb(237.4,237.4,237.4) 297.5px,rgb(237.5,237.5,237.5) 347.5px,rgb(237.6,237.6,237.6) 397.5px,rgb(237.6,237.6,237.6) 447.5px,rgb(237.6,237.6,237.6) 497.5px,rgb(237.5,237.5,237.5) 547.5px,rgb(237.4,237.4,237.4) 597.5px,rgb(236.7,236.7,236.7) 647.5px,rgb(234.7,234.7,234.7) 697.5px,rgb(230.7,230.7,230.7) 747.5px,rgb(223.9,223.9,223.9) 797.5px,rgb(214.2,214.2,214.2) 847.5px,rgb(202.0,202.0,202.0) 895.0px)"></div><div style="top:241px;height:5px;background:linear-gradient(90deg,rgb(201.9,201.9,201.9) 0.0px,rgb(213.9,213.9,213.9) 47.5px,rgb(223.6,223.6,223.6) 97.5px,rgb(230.3,230.3,230.3) 147.5px,rgb(234.3,234.3,234.3) 197.5px,rgb(236.2,236.2,236.2) 247.5px,rgb(236.8,236.8,236.8) 297.5px,rgb(237.0,237.0,237.0) 347.5px,rgb(237.0,237.0,237.0) 397.5px,rgb(237.0,237.0,237.0) 447.5px,rgb(237.0,237.0,237.0) 497.5px,rgb(237.0,237.0,237.0) 547.5px,rgb(236.8,236.8,236.8) 597.5px,rgb(236.2,236.2,236.2) 647.5px,rgb(234.3,234.3,234.3) 697.5px,rgb(230.3,230.3,230.3) 747.5px,rgb(223.6,223.6,223.6) 797.5px,rgb(213.9,213.9,213.9) 847.5px,rgb(201.9,201.9,201.9) 895.0px)"></div><div style="top:246px;height:5px;background:linear-gradient(90deg,rgb(201.7,201.7,201.7) 0.0px,rgb(213.7,213.7,213.7) 47.5px,rgb(223.3,223.3,223.3) 97.5px,rgb(229.9,229.9,229.9) 147.5px,rgb(233.8,233.8,233.8) 197.5px,rgb(235.6,235.6,235.6) 247.5px,rgb(236.3,236.3,236.3) 297.5px,rgb(236.5,236.5,236.5) 347.5px,rgb(236.5,236.5,236.5) 397.5px,rgb(236.5,236.5,236.5) 447.5px,rgb(236.5,236.5,236.5) 497.5px,rgb(236.5,236.5,236.5) 547.5px,rgb(236.3,236.3,236.3) 597.5px,rgb(235.6,235.6,235.6) 647.5px,rgb(233.8,233.8,233.8) 697.5px,rgb(229.9,229.9,229.9) 747.5px,rgb(223.3,223.3,223.3) 797.5px,rgb(213.7,213.7,213.7) 847.5px,rgb(201.7,201.7,201.7) 895.0px)"></div><div style="top:251px;height:5px;background:linear-gradient(90deg,rgb(201.5,201.5,201.5) 0.0px,rgb(213.5,213.5,213.5) 47.5px,rgb(223.0,223.0,223.0) 97.5px,rgb(229.5,229.5,229.5) 147.5px,rgb(233.3,233.3,233.3) 197.5px,rgb(235.1,235.1,235.1) 247.5px,rgb(235.8,235.8,235.8) 297.5px,rgb(235.9,235.9,235.9) 347.5px,rgb(236.0,236.0,236.0) 397.5px,rgb(236.0,236.0,236.0) 447.5px,rgb(236.0,236.0,236.0) 497.5px,rgb(235.9,235.9,235.9) 547.5px,rgb(235.8,235.8,235.8) 597.5px,rgb(235.1,235.1,235.1) 647.5px,rgb(233.3,233.3,233.3) 697.5px,rgb(229.5,229.5,229.5) 747.5px,rgb(223.0,223.0,223.0) 797.5px,rgb(213.5,213.5,213.5) 847.5px,rgb(201.5,201.5,201.5) 895.0px)"></div><div style="top:256px;height:5px;background:linear-gradient(90deg,rgb(201.3,201.3,201.3) 0.0px,rgb(213.2,213.2,213.2) 47.5px,rgb(222.7,222.7,222.7) 97.5px,rgb(229.1,229.1,229.1) 147.5px,rgb(232.8,232.8,232.8) 197.5px,rgb(234.6,234.6,234.6) 247.5px,rgb(235.3,235.3,235.3) 297.5px,rgb(235.4,235.4,235.4) 347.5px,rgb(235.4,235.4,235.4) 397.5px,rgb(235.4,235.4,235.4) 447.5px,rgb(235.4,235.4,235.4) 497.5px,rgb(235.4,235.4,235.4) 547.5px,rgb(235.3,235.3,235.3) 597.5px,rgb(234.6,234.6,234.6) 647.5px,rgb(232.8,232.8,232.8) 697.5px,rgb(229.1,229.1,229.1) 747.5px,rgb(222.7,222.7,222.7) 797.5px,rgb(213.2,213.2,213.2) 847.5px,rgb(201.3,201.3,201.3) 895.0px)"></div><div style="top:261px;height:5px;background:linear-gradient(90deg,rgb(201.1,201.1,201.1) 0.0px,rgb(212.9,212.9,212.9) 47.5px,rgb(222.3,222.3,222.3) 97.5px,rgb(228.7,228.7,228.7) 147.5px,rgb(232.4,232.4,232.4) 197.5px,rgb(234.1,234.1,234.1) 247.5px,rgb(234.7,234.7,234.7) 297.5px,rgb(234.9,234.9,234.9) 347.5px,rgb(234.9,234.9,234.9) 397.5px,rgb(234.9,234.9,234.9) 447.5px,rgb(234.9,234.9,234.9) 497.5px,rgb(234.9,234.9,234.9) 547.5px,rgb(234.7,234.7,234.7) 597.5px,rgb(234.1,234.1,234.1) 647.5px,rgb(232.4,232.4,232.4) 697.5px,rgb(228.7,228.7,228.7) 747.5px,rgb(222.3,222.3,222.3) 797.5px,rgb(212.9,212.9,212.9) 847.5px,rgb(201.1,201.1,201.1) 895.0px)"></div><div style="top:266px;height:5px;background:linear-gradient(90deg,rgb(200.9,200.9,200.9) 0.0px,rgb(212.7,212.7,212.7) 47.5px,rgb(222.0,222.0,222.0) 97.5px,rgb(228.3,228.3,228.3) 147.5px,rgb(231.9,231.9,231.9) 197.5px,rgb(233.6,233.6,233.6) 247.5px,rgb(234.2,234.2,234.2) 297.5px,rgb(234.3,234.3,234.3) 347.5px,rgb(234.3,234.3,234.3) 397.5px,rgb(234.3,234.3,234.3) 447.5px,rgb(234.3,234.3,234.3) 497.5px,rgb(234.3,234.3,234.3) 547.5px,rgb(234.2,234.2,234.2) 597.5px,rgb(233.6,233.6,233.6) 647.5px,rgb(231.9,231.9,231.9) 697.5px,rgb(228.3,228.3,228.3) 747.5px,rgb(222.0,222.0,222.0) 797.5px,rgb(212.7,212.7,212.7) 847.5px,rgb(200.9,200.9,200.9) 895.0px)"></div><div style="top:271px;height:5px;background:linear-gradient(90deg,rgb(200.7,200.7,200.7) 0.0px,rgb(212.4,212.4,212.4) 47.5px,rgb(221.6,221.6,221.6) 97.5px,rgb(227.8,227.8,227.8) 147.5px,rgb(231.4,231.4,231.4) 197.5px,rgb(233.0,233.0,233.0) 247.5px,rgb(233.6,233.6,233.6) 297.5px,rgb(233.8,233.8,233.8) 347.5px,rgb(233.8,233.8,233.8) 397.5px,rgb(233.8,233.8,233.8) 447.5px,rgb(233.8,233.8,233.8) 497.5px,rgb(233.8,233.8,233.8) 547.5px,rgb(233.6,233.6,233.6) 597.5px,rgb(233.0,233.0,233.0) 647.5px,rgb(231.4,231.4,231.4) 697.5px,rgb(227.8,227.8,227.8) 747.5px,rgb(221.6,221.6,221.6) 797.5px,rgb(212.4,212.4,212.4) 847.5px,rgb(200.7,200.7,200.7) 895.0px)"></div><div style="top:276px;height:5px;background:linear-gradient(90deg,rgb(200.5,200.5,200.5) 0.0px,rgb(212.1,212.1,212.1) 47.5px,rgb(221.3,221.3,221.3) 97.5px,rgb(227.4,227.4,227.4) 147.5px,rgb(230.9,230.9,230.9) 197.5px,rgb(232.5,232.5,232.5) 247.5px,rgb(233.1,233.1,233.1) 297.5px,rgb(233.2,233.2,233.2) 347.5px,rgb(233.3,233.3,233.3) 397.5px,rgb(233.3,233.3,233.3) 447.5px,rgb(233.3,233.3,233.3) 497.5px,rgb(233.2,233.2,233.2) 547.5px,rgb(233.1,233.1,233.1) 597.5px,rgb(232.5,232.5,232.5) 647.5px,rgb(230.9,230.9,230.9) 697.5px,rgb(227.4,227.4,227.4) 747.5px,rgb(221.3,221.3,221.3) 797.5px,rgb(212.1,212.1,212.1) 847.5px,rgb(200.5,200.5,200.5) 895.0px)"></div><div style="top:281px;height:5px;background:linear-gradient(90deg,rgb(200.3,200.3,200.3) 0.0px,rgb(211.9,211.9,211.9) 47.5px,rgb(220.9,220.9,220.9) 97.5px,rgb(227.0,227.0,227.0) 147.5px,rgb(230.4,230.4,230.4) 197.5px,rgb(232.0,232.0,232.0) 247.5px,rgb(232.5,232.5,232.5) 297.5px,rgb(232.7,232.7,232.7) 347.5px,rgb(232.7,232.7,232.7) 397.5px,rgb(232.7,232.7,232.7) 447.5px,rgb(232.7,232.7,232.7) 497.5px,rgb(232.7,232.7,232.7) 547.5px,rgb(232.5,232.5,232.5) 597.5px,rgb(232.0,232.0,232.0) 647.5px,rgb(230.4,230.4,230.4) 697.5px,rgb(227.0,227.0,227.0) 747.5px,rgb(220.9,220.9,220.9) 797.5px,rgb(211.9,211.9,211.9) 847.5px,rgb(200.3,200.3,200.3) 895.0px)"></div><div style="top:286px;height:5px;background:linear-gradient(90deg,rgb(200.0,200.0,200.0) 0.0px,rgb(211.6,211.6,211.6) 47.5px,rgb(220.6,220.6,220.6) 97.5px,rgb(226.5,226.5,226.5) 147.5px,rgb(229.9,229.9,229.9) 197.5px,rgb(231.5,231.5,231.5) 247.5px,rgb(232.0,232.0,232.0) 297.5px,rgb(232.1,232.1,232.1) 347.5px,rgb(232.2,232.2,232.2) 397.5px,rgb(232.2,232.2,232.2) 447.5px,rgb(232.2,232.2,232.2) 497.5px,rgb(232.1,232.1,232.1) 547.5px,rgb(232.0,232.0,232.0) 597.5px,rgb(231.5,231.5,231.5) 647.5px,rgb(229.9,229.9,229.9) 697.5px,rgb(226.5,226.5,226.5) 747.5px,rgb(220.6,220.6,220.6) 797.5px,rgb(211.6,211.6,211.6) 847.5px,rgb(200.0,200.0,200.0) 895.0px)"></div><div style="top:291px;height:5px;background:linear-gradient(90deg,rgb(199.8,199.8,199.8) 0.0px,rgb(211.3,211.3,211.3) 47.5px,rgb(220.2,220.2,220.2) 97.5px,rgb(226.1,226.1,226.1) 147.5px,rgb(229.4,229.4,229.4) 197.5px,rgb(230.9,230.9,230.9) 247.5px,rgb(231.5,231.5,231.5) 297.5px,rgb(231.6,231.6,231.6) 347.5px,rgb(231.6,231.6,231.6) 397.5px,rgb(231.6,231.6,231.6) 447.5px,rgb(231.6,231.6,231.6) 497.5px,rgb(231.6,231.6,231.6) 547.5px,rgb(231.5,231.5,231.5) 597.5px,rgb(230.9,230.9,230.9) 647.5px,rgb(229.4,229.4,229.4) 697.5px,rgb(226.1,226.1,226.1) 747.5px,rgb(220.2,220.2,220.2) 797.5px,rgb(211.3,211.3,211.3) 847.5px,rgb(199.8,199.8,199.8) 895.0px)"></div><div style="top:296px;height:5px;background:linear-gradient(90deg,rgb(199.6,199.6,199.6) 0.0px,rgb(211.0,211.0,211.0) 47.5px,rgb(219.8,219.8,219.8) 97.5px,rgb(225.6,225.6,225.6) 147.5px,rgb(228.9,228.9,228.9) 197.5px,rgb(230.4,230.4,230.4) 247.5px,rgb(230.9,230.9,230.9) 297.5px,rgb(231.0,231.0,231.0) 347.5px,rgb(231.0,231.0,231.0) 397.5px,rgb(231.0,231.0,231.0) 447.5px,rgb(231.0,231.0,231.0) 497.5px,rgb(231.0,231.0,231.0) 547.5px,rgb(230.9,230.9,230.9) 597.5px,rgb(230.4,230.4,230.4) 647.5px,rgb(228.9,228.9,228.9) 697.5px,rgb(225.6,225.6,225.6) 747.5px,rgb(219.8,219.8,219.8) 797.5px,rgb(211.0,211.0,211.0) 847.5px,rgb(199.6,199.6,199.6) 895.0px)"></div><div style="top:301px;height:5px;background:linear-gradient(90deg,rgb(199.3,199.3,199.3) 0.0px,rgb(210.7,210.7,210.7) 47.5px,rgb(219.5,219.5,219.5) 97.5px,rgb(225.2,225.2,225.2) 147.5px,rgb(228.4,228.4,228.4) 197.5px,rgb(229.8,229.8,229.8) 247.5px,rgb(230.4,230.4,230.4) 297.5px,rgb(230.5,230.5,230.5) 347.5px,rgb(230.5,230.5,230.5) 397.5px,rgb(230.5,230.5,230.5) 447.5px,rgb(230.5,230.5,230.5) 497.5px,rgb(230.5,230.5,230.5) 547.5px,rgb(230.4,230.4,230.4) 597.5px,rgb(229.8,229.8,229.8) 647.5px,rgb(228.4,228.4,228.4) 697.5px,rgb(225.2,225.2,225.2) 747.5px,rgb(219.5,219.5,219.5) 797.5px,rgb(210.7,210.7,210.7) 847.5px,rgb(199.3,199.3,199.3) 895.0px)"></div><div style="top:306px;height:5px;background:linear-gradient(90deg,rgb(199.1,199.1,199.1) 0.0px,rgb(210.4,210.4,210.4) 47.5px,rgb(219.1,219.1,219.1) 97.5px,rgb(224.7,224.7,224.7) 147.5px,rgb(227.9,227.9,227.9) 197.5px,rgb(229.3,229.3,229.3) 247.5px,rgb(229.8,229.8,229.8) 297.5px,rgb(229.9,229.9,229.9) 347.5px,rgb(229.9,229.9,229.9) 397.5px,rgb(229.9,229.9,229.9) 447.5px,rgb(229.9,229.9,229.9) 497.5px,rgb(229.9,229.9,229.9) 547.5px,rgb(229.8,229.8,229.8) 597.5px,rgb(229.3,229.3,229.3) 647.5px,rgb(227.9,227.9,227.9) 697.5px,rgb(224.7,224.7,224.7) 747.5px,rgb(219.1,219.1,219.1) 797.5px,rgb(210.4,210.4,210.4) 847.5px,rgb(199.1,199.1,199.1) 895.0px)"></div><div style="top:311px;height:5px;background:linear-gradient(90deg,rgb(198.8,198.8,198.8) 0.0px,rgb(210.1,210.1,210.1) 47.5px,rgb(218.7,218.7,218.7) 97.5px,rgb(224.3,224.3,224.3) 147.5px,rgb(227.4,227.4,227.4) 197.5px,rgb(228.8,228.8,228.8) 247.5px,rgb(229.2,229.2,229.2) 297.5px,rgb(229.4,229.4,229.4) 347.5px,rgb(229.4,229.4,229.4) 397.5px,rgb(229.4,229.4,229.4) 447.5px,rgb(229.4,229.4,229.4) 497.5px,rgb(229.4,229.4,229.4) 547.5px,rgb(229.2,229.2,229.2) 597.5px,rgb(228.8,228.8,228.8) 647.5px,rgb(227.4,227.4,227.4) 697.5px,rgb(224.3,224.3,224.3) 747.5px,rgb(218.7,218.7,218.7) 797.5px,rgb(210.1,210.1,210.1) 847.5px,rgb(198.8,198.8,198.8) 895.0px)"></div><div style="top:316px;height:5px;background:linear-gradient(90deg,rgb(198.6,198.6,198.6) 0.0px,rgb(209.7,209.7,209.7) 47.5px,rgb(218.3,218.3,218.3) 97.5px,rgb(223.8,223.8,223.8) 147.5px,rgb(226.8,226.8,226.8) 197.5px,rgb(228.2,228.2,228.2) 247.5px,rgb(228.7,228.7,228.7) 297.5px,rgb(228.8,228.8,228.8) 347.5px,rgb(228.8,228.8,228.8) 397.5px,rgb(228.8,228.8,228.8) 447.5px,rgb(228.8,228.8,228.8) 497.5px,rgb(228.8,228.8,228.8) 547.5px,rgb(228.7,228.7,228.7) 597.5px,rgb(228.2,228.2,228.2) 647.5px,rgb(226.8,226.8,226.8) 697.5px,rgb(223.8,223.8,223.8) 747.5px,rgb(218.3,218.3,218.3) 797.5px,rgb(209.7,209.7,209.7) 847.5px,rgb(198.6,198.6,198.6) 895.0px)"></div><div style="top:321px;height:5px;background:linear-gradient(90deg,rgb(198.3,198.3,198.3) 0.0px,rgb(209.4,209.4,209.4) 47.5px,rgb(217.9,217.9,217.9) 97.5px,rgb(223.3,223.3,223.3) 147.5px,rgb(226.3,226.3,226.3) 197.5px,rgb(227.7,227.7,227.7) 247.5px,rgb(228.1,228.1,228.1) 297.5px,rgb(228.2,228.2,228.2) 347.5px,rgb(228.3,228.3,228.3) 397.5px,rgb(228.3,228.3,228.3) 447.5px,rgb(228.3,228.3,228.3) 497.5px,rgb(228.2,228.2,228.2) 547.5px,rgb(228.1,228.1,228.1) 597.5px,rgb(227.7,227.7,227.7) 647.5px,rgb(226.3,226.3,226.3) 697.5px,rgb(223.3,223.3,223.3) 747.5px,rgb(217.9,217.9,217.9) 797.5px,rgb(209.4,209.4,209.4) 847.5px,rgb(198.3,198.3,198.3) 895.0px)"></div><div style="top:326px;height:5px;background:linear-gradient(90deg,rgb(198.0,198.0,198.0) 0.0px,rgb(209.1,209.1,209.1) 47.5px,rgb(217.5,217.5,217.5) 97.5px,rgb(222.8,222.8,222.8) 147.5px,rgb(225.8,225.8,225.8) 197.5px,rgb(227.1,227.1,227.1) 247.5px,rgb(227.6,227.6,227.6) 297.5px,rgb(227.7,227.7,227.7) 347.5px,rgb(227.7,227.7,227.7) 397.5px,rgb(227.7,227.7,227.7) 447.5px,rgb(227.7,227.7,227.7) 497.5px,rgb(227.7,227.7,227.7) 547.5px,rgb(227.6,227.6,227.6) 597.5px,rgb(227.1,227.1,227.1) 647.5px,rgb(225.8,225.8,225.8) 697.5px,rgb(222.8,222.8,222.8) 747.5px,rgb(217.5,217.5,217.5) 797.5px,rgb(209.1,209.1,209.1) 847.5px,rgb(198.0,198.0,198.0) 895.0px)"></div><div style="top:331px;height:5px;background:linear-gradient(90deg,rgb(197.8,197.8,197.8) 0.0px,rgb(208.7,208.7,208.7) 47.5px,rgb(217.1,217.1,217.1) 97.5px,rgb(222.4,222.4,222.4) 147.5px,rgb(225.3,225.3,225.3) 197.5px,rgb(226.6,226.6,226.6) 247.5px,rgb(227.0,227.0,227.0) 297.5px,rgb(227.1,227.1,227.1) 347.5px,rgb(227.1,227.1,227.1) 397.5px,rgb(227.1,227.1,227.1) 447.5px,rgb(227.1,227.1,227.1) 497.5px,rgb(227.1,227.1,227.1) 547.5px,rgb(227.0,227.0,227.0) 597.5px,rgb(226.6,226.6,226.6) 647.5px,rgb(225.3,225.3,225.3) 697.5px,rgb(222.4,222.4,222.4) 747.5px,rgb(217.1,217.1,217.1) 797.5px,rgb(208.7,208.7,208.7) 847.5px,rgb(197.8,197.8,197.8) 895.0px)"></div><div style="top:336px;height:5px;background:linear-gradient(90deg,rgb(197.5,197.5,197.5) 0.0px,rgb(208.4,208.4,208.4) 47.5px,rgb(216.6,216.6,216.6) 97.5px,rgb(221.9,221.9,221.9) 147.5px,rgb(224.7,224.7,224.7) 197.5px,rgb(226.0,226.0,226.0) 247.5px,rgb(226.4,226.4,226.4) 297.5px,rgb(226.5,226.5,226.5) 347.5px,rgb(226.6,226.6,226.6) 397.5px,rgb(226.6,226.6,226.6) 447.5px,rgb(226.6,226.6,226.6) 497.5px,rgb(226.5,226.5,226.5) 547.5px,rgb(226.4,226.4,226.4) 597.5px,rgb(226.0,226.0,226.0) 647.5px,rgb(224.7,224.7,224.7) 697.5px,rgb(221.9,221.9,221.9) 747.5px,rgb(216.6,216.6,216.6) 797.5px,rgb(208.4,208.4,208.4) 847.5px,rgb(197.5,197.5,197.5) 895.0px)"></div><div style="top:341px;height:5px;background:linear-gradient(90deg,rgb(197.2,197.2,197.2) 0.0px,rgb(208.0,208.0,208.0) 47.5px,rgb(216.2,216.2,216.2) 97.5px,rgb(221.4,221.4,221.4) 147.5px,rgb(224.2,224.2,224.2) 197.5px,rgb(225.4,225.4,225.4) 247.5px,rgb(225.9,225.9,225.9) 297.5px,rgb(226.0,226.0,226.0) 347.5px,rgb(226.0,226.0,226.0) 397.5px,rgb(226.0,226.0,226.0) 447.5px,rgb(226.0,226.0,226.0) 497.5px,rgb(226.0,226.0,226.0) 547.5px,rgb(225.9,225.9,225.9) 597.5px,rgb(225.4,225.4,225.4) 647.5px,rgb(224.2,224.2,224.2) 697.5px,rgb(221.4,221.4,221.4) 747.5px,rgb(216.2,216.2,216.2) 797.5px,rgb(208.0,208.0,208.0) 847.5px,rgb(197.2,197.2,197.2) 895.0px)"></div><div style="top:346px;height:5px;background:linear-gradient(90deg,rgb(196.9,196.9,196.9) 0.0px,rgb(207.7,207.7,207.7) 47.5px,rgb(215.8,215.8,215.8) 97.5px,rgb(220.9,220.9,220.9) 147.5px,rgb(223.7,223.7,223.7) 197.5px,rgb(224.9,224.9,224.9) 247.5px,rgb(225.3,225.3,225.3) 297.5px,rgb(225.4,225.4,225.4) 347.5px,rgb(225.4,225.4,225.4) 397.5px,rgb(225.4,225.4,225.4) 447.5px,rgb(225.4,225.4,225.4) 497.5px,rgb(225.4,225.4,225.4) 547.5px,rgb(225.3,225.3,225.3) 597.5px,rgb(224.9,224.9,224.9) 647.5px,rgb(223.7,223.7,223.7) 697.5px,rgb(220.9,220.9,220.9) 747.5px,rgb(215.8,215.8,215.8) 797.5px,rgb(207.7,207.7,207.7) 847.5px,rgb(196.9,196.9,196.9) 895.0px)"></div><div style="top:351px;height:5px;background:linear-gradient(90deg,rgb(196.6,196.6,196.6) 0.0px,rgb(207.3,207.3,207.3) 47.5px,rgb(215.4,215.4,215.4) 97.5px,rgb(220.4,220.4,220.4) 147.5px,rgb(223.1,223.1,223.1) 197.5px,rgb(224.3,224.3,224.3) 247.5px,rgb(224.7,224.7,224.7) 297.5px,rgb(224.8,224.8,224.8) 347.5px,rgb(224.9,224.9,224.9) 397.5px,rgb(224.9,224.9,224.9) 447.5px,rgb(224.9,224.9,224.9) 497.5px,rgb(224.8,224.8,224.8) 547.5px,rgb(224.7,224.7,224.7) 597.5px,rgb(224.3,224.3,224.3) 647.5px,rgb(223.1,223.1,223.1) 697.5px,rgb(220.4,220.4,220.4) 747.5px,rgb(215.4,215.4,215.4) 797.5px,rgb(207.3,207.3,207.3) 847.5px,rgb(196.6,196.6,196.6) 895.0px)"></div><div style="top:356px;height:5px;background:linear-gradient(90deg,rgb(196.3,196.3,196.3) 0.0px,rgb(207.0,207.0,207.0) 47.5px,rgb(214.9,214.9,214.9) 97.5px,rgb(219.9,219.9,219.9) 147.5px,rgb(222.6,222.6,222.6) 197.5px,rgb(223.8,223.8,223.8) 247.5px,rgb(224.2,224.2,224.2) 297.5px,rgb(224.3,224.3,224.3) 347.5px,rgb(224.3,224.3,224.3) 397.5px,rgb(224.3,224.3,224.3) 447.5px,rgb(224.3,224.3,224.3) 497.5px,rgb(224.3,224.3,224.3) 547.5px,rgb(224.2,224.2,224.2) 597.5px,rgb(223.8,223.8,223.8) 647.5px,rgb(222.6,222.6,222.6) 697.5px,rgb(219.9,219.9,219.9) 747.5px,rgb(214.9,214.9,214.9) 797.5px,rgb(207.0,207.0,207.0) 847.5px,rgb(196.3,196.3,196.3) 895.0px)"></div><div style="top:361px;height:5px;background:linear-gradient(90deg,rgb(196.0,196.0,196.0) 0.0px,rgb(206.6,206.6,206.6) 47.5px,rgb(214.5,214.5,214.5) 97.5px,rgb(219.4,219.4,219.4) 147.5px,rgb(222.0,222.0,222.0) 197.5px,rgb(223.2,223.2,223.2) 247.5px,rgb(223.6,223.6,223.6) 297.5px,rgb(223.7,223.7,223.7) 347.5px,rgb(223.7,223.7,223.7) 397.5px,rgb(223.7,223.7,223.7) 447.5px,rgb(223.7,223.7,223.7) 497.5px,rgb(223.7,223.7,223.7) 547.5px,rgb(223.6,223.6,223.6) 597.5px,rgb(223.2,223.2,223.2) 647.5px,rgb(222.0,222.0,222.0) 697.5px,rgb(219.4,219.4,219.4) 747.5px,rgb(214.5,214.5,214.5) 797.5px,rgb(206.6,206.6,206.6) 847.5px,rgb(196.0,196.0,196.0) 895.0px)"></div><div style="top:366px;height:5px;background:linear-gradient(90deg,rgb(195.7,195.7,195.7) 0.0px,rgb(206.2,206.2,206.2) 47.5px,rgb(214.0,214.0,214.0) 97.5px,rgb(218.9,218.9,218.9) 147.5px,rgb(221.5,221.5,221.5) 197.5px,rgb(222.6,222.6,222.6) 247.5px,rgb(223.0,223.0,223.0) 297.5px,rgb(223.1,223.1,223.1) 347.5px,rgb(223.1,223.1,223.1) 397.5px,rgb(223.1,223.1,223.1) 447.5px,rgb(223.1,223.1,223.1) 497.5px,rgb(223.1,223.1,223.1) 547.5px,rgb(223.0,223.0,223.0) 597.5px,rgb(222.6,222.6,222.6) 647.5px,rgb(221.5,221.5,221.5) 697.5px,rgb(218.9,218.9,218.9) 747.5px,rgb(214.0,214.0,214.0) 797.5px,rgb(206.2,206.2,206.2) 847.5px,rgb(195.7,195.7,195.7) 895.0px)"></div><div style="top:371px;height:5px;background:linear-gradient(90deg,rgb(195.4,195.4,195.4) 0.0px,rgb(205.8,205.8,205.8) 47.5px,rgb(213.6,213.6,213.6) 97.5px,rgb(218.4,218.4,218.4) 147.5px,rgb(220.9,220.9,220.9) 197.5px,rgb(222.1,222.1,222.1) 247.5px,rgb(222.5,222.5,222.5) 297.5px,rgb(222.5,222.5,222.5) 347.5px,rgb(222.6,222.6,222.6) 397.5px,rgb(222.6,222.6,222.6) 447.5px,rgb(222.6,222.6,222.6) 497.5px,rgb(222.5,222.5,222.5) 547.5px,rgb(222.5,222.5,222.5) 597.5px,rgb(222.1,222.1,222.1) 647.5px,rgb(220.9,220.9,220.9) 697.5px,rgb(218.4,218.4,218.4) 747.5px,rgb(213.6,213.6,213.6) 797.5px,rgb(205.8,205.8,205.8) 847.5px,rgb(195.4,195.4,195.4) 895.0px)"></div><div style="top:376px;height:5px;background:linear-gradient(90deg,rgb(195.1,195.1,195.1) 0.0px,rgb(205.5,205.5,205.5) 47.5px,rgb(213.1,213.1,213.1) 97.5px,rgb(217.9,217.9,217.9) 147.5px,rgb(220.4,220.4,220.4) 197.5px,rgb(221.5,221.5,221.5) 247.5px,rgb(221.9,221.9,221.9) 297.5px,rgb(222.0,222.0,222.0) 347.5px,rgb(222.0,222.0,222.0) 397.5px,rgb(222.0,222.0,222.0) 447.5px,rgb(222.0,222.0,222.0) 497.5px,rgb(222.0,222.0,222.0) 547.5px,rgb(221.9,221.9,221.9) 597.5px,rgb(221.5,221.5,221.5) 647.5px,rgb(220.4,220.4,220.4) 697.5px,rgb(217.9,217.9,217.9) 747.5px,rgb(213.1,213.1,213.1) 797.5px,rgb(205.5,205.5,205.5) 847.5px,rgb(195.1,195.1,195.1) 895.0px)"></div><div style="top:381px;height:5px;background:linear-gradient(90deg,rgb(194.8,194.8,194.8) 0.0px,rgb(205.1,205.1,205.1) 47.5px,rgb(212.7,212.7,212.7) 97.5px,rgb(217.4,217.4,217.4) 147.5px,rgb(219.8,219.8,219.8) 197.5px,rgb(220.9,220.9,220.9) 247.5px,rgb(221.3,221.3,221.3) 297.5px,rgb(221.4,221.4,221.4) 347.5px,rgb(221.4,221.4,221.4) 397.5px,rgb(221.4,221.4,221.4) 447.5px,rgb(221.4,221.4,221.4) 497.5px,rgb(221.4,221.4,221.4) 547.5px,rgb(221.3,221.3,221.3) 597.5px,rgb(220.9,220.9,220.9) 647.5px,rgb(219.8,219.8,219.8) 697.5px,rgb(217.4,217.4,217.4) 747.5px,rgb(212.7,212.7,212.7) 797.5px,rgb(205.1,205.1,205.1) 847.5px,rgb(194.8,194.8,194.8) 895.0px)"></div><div style="top:386px;height:5px;background:linear-gradient(90deg,rgb(194.4,194.4,194.4) 0.0px,rgb(204.7,204.7,204.7) 47.5px,rgb(212.2,212.2,212.2) 97.5px,rgb(216.8,216.8,216.8) 147.5px,rgb(219.3,219.3,219.3) 197.5px,rgb(220.4,220.4,220.4) 247.5px,rgb(220.7,220.7,220.7) 297.5px,rgb(220.8,220.8,220.8) 347.5px,rgb(220.8,220.8,220.8) 397.5px,rgb(220.8,220.8,220.8) 447.5px,rgb(220.8,220.8,220.8) 497.5px,rgb(220.8,220.8,220.8) 547.5px,rgb(220.7,220.7,220.7) 597.5px,rgb(220.4,220.4,220.4) 647.5px,rgb(219.3,219.3,219.3) 697.5px,rgb(216.8,216.8,216.8) 747.5px,rgb(212.2,212.2,212.2) 797.5px,rgb(204.7,204.7,204.7) 847.5px,rgb(194.4,194.4,194.4) 895.0px)"></div><div style="top:391px;height:5px;background:linear-gradient(90deg,rgb(194.1,194.1,194.1) 0.0px,rgb(204.3,204.3,204.3) 47.5px,rgb(211.7,211.7,211.7) 97.5px,rgb(216.3,216.3,216.3) 147.5px,rgb(218.7,218.7,218.7) 197.5px,rgb(219.8,219.8,219.8) 247.5px,rgb(220.1,220.1,220.1) 297.5px,rgb(220.2,220.2,220.2) 347.5px,rgb(220.2,220.2,220.2) 397.5px,rgb(220.2,220.2,220.2) 447.5px,rgb(220.2,220.2,220.2) 497.5px,rgb(220.2,220.2,220.2) 547.5px,rgb(220.1,220.1,220.1) 597.5px,rgb(219.8,219.8,219.8) 647.5px,rgb(218.7,218.7,218.7) 697.5px,rgb(216.3,216.3,216.3) 747.5px,rgb(211.7,211.7,211.7) 797.5px,rgb(204.3,204.3,204.3) 847.5px,rgb(194.1,194.1,194.1) 895.0px)"></div><div style="top:396px;height:5px;background:linear-gradient(90deg,rgb(193.8,193.8,193.8) 0.0px,rgb(203.9,203.9,203.9) 47.5px,rgb(211.3,211.3,211.3) 97.5px,rgb(215.8,215.8,215.8) 147.5px,rgb(218.2,218.2,218.2) 197.5px,rgb(219.2,219.2,219.2) 247.5px,rgb(219.6,219.6,219.6) 297.5px,rgb(219.6,219.6,219.6) 347.5px,rgb(219.7,219.7,219.7) 397.5px,rgb(219.7,219.7,219.7) 447.5px,rgb(219.7,219.7,219.7) 497.5px,rgb(219.6,219.6,219.6) 547.5px,rgb(219.6,219.6,219.6) 597.5px,rgb(219.2,219.2,219.2) 647.5px,rgb(218.2,218.2,218.2) 697.5px,rgb(215.8,215.8,215.8) 747.5px,rgb(211.3,211.3,211.3) 797.5px,rgb(203.9,203.9,203.9) 847.5px,rgb(193.8,193.8,193.8) 895.0px)"></div><div style="top:401px;height:5px;background:linear-gradient(90deg,rgb(193.4,193.4,193.4) 0.0px,rgb(203.5,203.5,203.5) 47.5px,rgb(210.8,210.8,210.8) 97.5px,rgb(215.3,215.3,215.3) 147.5px,rgb(217.6,217.6,217.6) 197.5px,rgb(218.6,218.6,218.6) 247.5px,rgb(219.0,219.0,219.0) 297.5px,rgb(219.1,219.1,219.1) 347.5px,rgb(219.1,219.1,219.1) 397.5px,rgb(219.1,219.1,219.1) 447.5px,rgb(219.1,219.1,219.1) 497.5px,rgb(219.1,219.1,219.1) 547.5px,rgb(219.0,219.0,219.0) 597.5px,rgb(218.6,218.6,218.6) 647.5px,rgb(217.6,217.6,217.6) 697.5px,rgb(215.3,215.3,215.3) 747.5px,rgb(210.8,210.8,210.8) 797.5px,rgb(203.5,203.5,203.5) 847.5px,rgb(193.4,193.4,193.4) 895.0px)"></div><div style="top:406px;height:5px;background:linear-gradient(90deg,rgb(193.1,193.1,193.1) 0.0px,rgb(203.1,203.1,203.1) 47.5px,rgb(210.3,210.3,210.3) 97.5px,rgb(214.7,214.7,214.7) 147.5px,rgb(217.0,217.0,217.0) 197.5px,rgb(218.1,218.1,218.1) 247.5px,rgb(218.4,218.4,218.4) 297.5px,rgb(218.5,218.5,218.5) 347.5px,rgb(218.5,218.5,218.5) 397.5px,rgb(218.5,218.5,218.5) 447.5px,rgb(218.5,218.5,218.5) 497.5px,rgb(218.5,218.5,218.5) 547.5px,rgb(218.4,218.4,218.4) 597.5px,rgb(218.1,218.1,218.1) 647.5px,rgb(217.0,217.0,217.0) 697.5px,rgb(214.7,214.7,214.7) 747.5px,rgb(210.3,210.3,210.3) 797.5px,rgb(203.1,203.1,203.1) 847.5px,rgb(193.1,193.1,193.1) 895.0px)"></div><div style="top:411px;height:5px;background:linear-gradient(90deg,rgb(192.7,192.7,192.7) 0.0px,rgb(202.7,202.7,202.7) 47.5px,rgb(209.8,209.8,209.8) 97.5px,rgb(214.2,214.2,214.2) 147.5px,rgb(216.5,216.5,216.5) 197.5px,rgb(217.5,217.5,217.5) 247.5px,rgb(217.8,217.8,217.8) 297.5px,rgb(217.9,217.9,217.9) 347.5px,rgb(217.9,217.9,217.9) 397.5px,rgb(217.9,217.9,217.9) 447.5px,rgb(217.9,217.9,217.9) 497.5px,rgb(217.9,217.9,217.9) 547.5px,rgb(217.8,217.8,217.8) 597.5px,rgb(217.5,217.5,217.5) 647.5px,rgb(216.5,216.5,216.5) 697.5px,rgb(214.2,214.2,214.2) 747.5px,rgb(209.8,209.8,209.8) 797.5px,rgb(202.7,202.7,202.7) 847.5px,rgb(192.7,192.7,192.7) 895.0px)"></div><div style="top:416px;height:5px;background:linear-gradient(90deg,rgb(192.4,192.4,192.4) 0.0px,rgb(202.2,202.2,202.2) 47.5px,rgb(209.4,209.4,209.4) 97.5px,rgb(213.7,213.7,213.7) 147.5px,rgb(215.9,215.9,215.9) 197.5px,rgb(216.9,216.9,216.9) 247.5px,rgb(217.2,217.2,217.2) 297.5px,rgb(217.3,217.3,217.3) 347.5px,rgb(217.3,217.3,217.3) 397.5px,rgb(217.3,217.3,217.3) 447.5px,rgb(217.3,217.3,217.3) 497.5px,rgb(217.3,217.3,217.3) 547.5px,rgb(217.2,217.2,217.2) 597.5px,rgb(216.9,216.9,216.9) 647.5px,rgb(215.9,215.9,215.9) 697.5px,rgb(213.7,213.7,213.7) 747.5px,rgb(209.4,209.4,209.4) 797.5px,rgb(202.2,202.2,202.2) 847.5px,rgb(192.4,192.4,192.4) 895.0px)"></div><div style="top:421px;height:5px;background:linear-gradient(90deg,rgb(192.0,192.0,192.0) 0.0px,rgb(201.8,201.8,201.8) 47.5px,rgb(208.9,208.9,208.9) 97.5px,rgb(213.1,213.1,213.1) 147.5px,rgb(215.3,215.3,215.3) 197.5px,rgb(216.3,216.3,216.3) 247.5px,rgb(216.6,216.6,216.6) 297.5px,rgb(216.7,216.7,216.7) 347.5px,rgb(216.7,216.7,216.7) 397.5px,rgb(216.7,216.7,216.7) 447.5px,rgb(216.7,216.7,216.7) 497.5px,rgb(216.7,216.7,216.7) 547.5px,rgb(216.6,216.6,216.6) 597.5px,rgb(216.3,216.3,216.3) 647.5px,rgb(215.3,215.3,215.3) 697.5px,rgb(213.1,213.1,213.1) 747.5px,rgb(208.9,208.9,208.9) 797.5px,rgb(201.8,201.8,201.8) 847.5px,rgb(192.0,192.0,192.0) 895.0px)"></div><div style="top:426px;height:5px;background:linear-gradient(90deg,rgb(191.7,191.7,191.7) 0.0px,rgb(201.4,201.4,201.4) 47.5px,rgb(208.4,208.4,208.4) 97.5px,rgb(212.6,212.6,212.6) 147.5px,rgb(214.8,214.8,214.8) 197.5px,rgb(215.7,215.7,215.7) 247.5px,rgb(216.1,216.1,216.1) 297.5px,rgb(216.1,216.1,216.1) 347.5px,rgb(216.1,216.1,216.1) 397.5px,rgb(216.1,216.1,216.1) 447.5px,rgb(216.1,216.1,216.1) 497.5px,rgb(216.1,216.1,216.1) 547.5px,rgb(216.1,216.1,216.1) 597.5px,rgb(215.7,215.7,215.7) 647.5px,rgb(214.8,214.8,214.8) 697.5px,rgb(212.6,212.6,212.6) 747.5px,rgb(208.4,208.4,208.4) 797.5px,rgb(201.4,201.4,201.4) 847.5px,rgb(191.7,191.7,191.7) 895.0px)"></div><div style="top:431px;height:5px;background:linear-gradient(90deg,rgb(191.3,191.3,191.3) 0.0px,rgb(201.0,201.0,201.0) 47.5px,rgb(207.9,207.9,207.9) 97.5px,rgb(212.0,212.0,212.0) 147.5px,rgb(214.2,214.2,214.2) 197.5px,rgb(215.1,215.1,215.1) 247.5px,rgb(215.5,215.5,215.5) 297.5px,rgb(215.5,215.5,215.5) 347.5px,rgb(215.5,215.5,215.5) 397.5px,rgb(215.5,215.5,215.5) 447.5px,rgb(215.5,215.5,215.5) 497.5px,rgb(215.5,215.5,215.5) 547.5px,rgb(215.5,215.5,215.5) 597.5px,rgb(215.1,215.1,215.1) 647.5px,rgb(214.2,214.2,214.2) 697.5px,rgb(212.0,212.0,212.0) 747.5px,rgb(207.9,207.9,207.9) 797.5px,rgb(201.0,201.0,201.0) 847.5px,rgb(191.3,191.3,191.3) 895.0px)"></div><div style="top:436px;height:5px;background:linear-gradient(90deg,rgb(190.9,190.9,190.9) 0.0px,rgb(200.5,200.5,200.5) 47.5px,rgb(207.4,207.4,207.4) 97.5px,rgb(211.5,211.5,211.5) 147.5px,rgb(213.6,213.6,213.6) 197.5px,rgb(214.6,214.6,214.6) 247.5px,rgb(214.9,214.9,214.9) 297.5px,rgb(214.9,214.9,214.9) 347.5px,rgb(215.0,215.0,215.0) 397.5px,rgb(215.0,215.0,215.0) 447.5px,rgb(215.0,215.0,215.0) 497.5px,rgb(214.9,214.9,214.9) 547.5px,rgb(214.9,214.9,214.9) 597.5px,rgb(214.6,214.6,214.6) 647.5px,rgb(213.6,213.6,213.6) 697.5px,rgb(211.5,211.5,211.5) 747.5px,rgb(207.4,207.4,207.4) 797.5px,rgb(200.5,200.5,200.5) 847.5px,rgb(190.9,190.9,190.9) 895.0px)"></div><div style="top:441px;height:5px;background:linear-gradient(90deg,rgb(190.6,190.6,190.6) 0.0px,rgb(200.1,200.1,200.1) 47.5px,rgb(206.9,206.9,206.9) 97.5px,rgb(211.0,211.0,211.0) 147.5px,rgb(213.1,213.1,213.1) 197.5px,rgb(214.0,214.0,214.0) 247.5px,rgb(214.3,214.3,214.3) 297.5px,rgb(214.4,214.4,214.4) 347.5px,rgb(214.4,214.4,214.4) 397.5px,rgb(214.4,214.4,214.4) 447.5px,rgb(214.4,214.4,214.4) 497.5px,rgb(214.4,214.4,214.4) 547.5px,rgb(214.3,214.3,214.3) 597.5px,rgb(214.0,214.0,214.0) 647.5px,rgb(213.1,213.1,213.1) 697.5px,rgb(211.0,211.0,211.0) 747.5px,rgb(206.9,206.9,206.9) 797.5px,rgb(200.1,200.1,200.1) 847.5px,rgb(190.6,190.6,190.6) 895.0px)"></div><div style="top:446px;height:5px;background:linear-gradient(90deg,rgb(190.2,190.2,190.2) 0.0px,rgb(199.6,199.6,199.6) 47.5px,rgb(206.4,206.4,206.4) 97.5px,rgb(210.4,210.4,210.4) 147.5px,rgb(212.5,212.5,212.5) 197.5px,rgb(213.4,213.4,213.4) 247.5px,rgb(213.7,213.7,213.7) 297.5px,rgb(213.8,213.8,213.8) 347.5px,rgb(213.8,213.8,213.8) 397.5px,rgb(213.8,213.8,213.8) 447.5px,rgb(213.8,213.8,213.8) 497.5px,rgb(213.8,213.8,213.8) 547.5px,rgb(213.7,213.7,213.7) 597.5px,rgb(213.4,213.4,213.4) 647.5px,rgb(212.5,212.5,212.5) 697.5px,rgb(210.4,210.4,210.4) 747.5px,rgb(206.4,206.4,206.4) 797.5px,rgb(199.6,199.6,199.6) 847.5px,rgb(190.2,190.2,190.2) 895.0px)"></div><div style="top:451px;height:5px;background:linear-gradient(90deg,rgb(189.8,189.8,189.8) 0.0px,rgb(199.2,199.2,199.2) 47.5px,rgb(205.9,205.9,205.9) 97.5px,rgb(209.9,209.9,209.9) 147.5px,rgb(211.9,211.9,211.9) 197.5px,rgb(212.8,212.8,212.8) 247.5px,rgb(213.1,213.1,213.1) 297.5px,rgb(213.2,213.2,213.2) 347.5px,rgb(213.2,213.2,213.2) 397.5px,rgb(213.2,213.2,213.2) 447.5px,rgb(213.2,213.2,213.2) 497.5px,rgb(213.2,213.2,213.2) 547.5px,rgb(213.1,213.1,213.1) 597.5px,rgb(212.8,212.8,212.8) 647.5px,rgb(211.9,211.9,211.9) 697.5px,rgb(209.9,209.9,209.9) 747.5px,rgb(205.9,205.9,205.9) 797.5px,rgb(199.2,199.2,199.2) 847.5px,rgb(189.8,189.8,189.8) 895.0px)"></div><div style="top:456px;height:5px;background:linear-gradient(90deg,rgb(189.4,189.4,189.4) 0.0px,rgb(198.8,198.8,198.8) 47.5px,rgb(205.4,205.4,205.4) 97.5px,rgb(209.3,209.3,209.3) 147.5px,rgb(211.3,211.3,211.3) 197.5px,rgb(212.2,212.2,212.2) 247.5px,rgb(212.5,212.5,212.5) 297.5px,rgb(212.6,212.6,212.6) 347.5px,rgb(212.6,212.6,212.6) 397.5px,rgb(212.6,212.6,212.6) 447.5px,rgb(212.6,212.6,212.6) 497.5px,rgb(212.6,212.6,212.6) 547.5px,rgb(212.5,212.5,212.5) 597.5px,rgb(212.2,212.2,212.2) 647.5px,rgb(211.3,211.3,211.3) 697.5px,rgb(209.3,209.3,209.3) 747.5px,rgb(205.4,205.4,205.4) 797.5px,rgb(198.8,198.8,198.8) 847.5px,rgb(189.4,189.4,189.4) 895.0px)"></div><div style="top:461px;height:5px;background:linear-gradient(90deg,rgb(189.0,189.0,189.0) 0.0px,rgb(198.3,198.3,198.3) 47.5px,rgb(204.9,204.9,204.9) 97.5px,rgb(208.7,208.7,208.7) 147.5px,rgb(210.7,210.7,210.7) 197.5px,rgb(211.6,211.6,211.6) 247.5px,rgb(211.9,211.9,211.9) 297.5px,rgb(212.0,212.0,212.0) 347.5px,rgb(212.0,212.0,212.0) 397.5px,rgb(212.0,212.0,212.0) 447.5px,rgb(212.0,212.0,212.0) 497.5px,rgb(212.0,212.0,212.0) 547.5px,rgb(211.9,211.9,211.9) 597.5px,rgb(211.6,211.6,211.6) 647.5px,rgb(210.7,210.7,210.7) 697.5px,rgb(208.7,208.7,208.7) 747.5px,rgb(204.9,204.9,204.9) 797.5px,rgb(198.3,198.3,198.3) 847.5px,rgb(189.0,189.0,189.0) 895.0px)"></div><div style="top:466px;height:5px;background:linear-gradient(90deg,rgb(188.6,188.6,188.6) 0.0px,rgb(197.8,197.8,197.8) 47.5px,rgb(204.3,204.3,204.3) 97.5px,rgb(208.2,208.2,208.2) 147.5px,rgb(210.2,210.2,210.2) 197.5px,rgb(211.0,211.0,211.0) 247.5px,rgb(211.3,211.3,211.3) 297.5px,rgb(211.4,211.4,211.4) 347.5px,rgb(211.4,211.4,211.4) 397.5px,rgb(211.4,211.4,211.4) 447.5px,rgb(211.4,211.4,211.4) 497.5px,rgb(211.4,211.4,211.4) 547.5px,rgb(211.3,211.3,211.3) 597.5px,rgb(211.0,211.0,211.0) 647.5px,rgb(210.2,210.2,210.2) 697.5px,rgb(208.2,208.2,208.2) 747.5px,rgb(204.3,204.3,204.3) 797.5px,rgb(197.8,197.8,197.8) 847.5px,rgb(188.6,188.6,188.6) 895.0px)"></div><div style="top:471px;height:5px;background:linear-gradient(90deg,rgb(188.3,188.3,188.3) 0.0px,rgb(197.4,197.4,197.4) 47.5px,rgb(203.8,203.8,203.8) 97.5px,rgb(207.6,207.6,207.6) 147.5px,rgb(209.6,209.6,209.6) 197.5px,rgb(210.4,210.4,210.4) 247.5px,rgb(210.7,210.7,210.7) 297.5px,rgb(210.8,210.8,210.8) 347.5px,rgb(210.8,210.8,210.8) 397.5px,rgb(210.8,210.8,210.8) 447.5px,rgb(210.8,210.8,210.8) 497.5px,rgb(210.8,210.8,210.8) 547.5px,rgb(210.7,210.7,210.7) 597.5px,rgb(210.4,210.4,210.4) 647.5px,rgb(209.6,209.6,209.6) 697.5px,rgb(207.6,207.6,207.6) 747.5px,rgb(203.8,203.8,203.8) 797.5px,rgb(197.4,197.4,197.4) 847.5px,rgb(188.3,188.3,188.3) 895.0px)"></div><div style="top:476px;height:5px;background:linear-gradient(90deg,rgb(187.9,187.9,187.9) 0.0px,rgb(196.9,196.9,196.9) 47.5px,rgb(203.3,203.3,203.3) 97.5px,rgb(207.1,207.1,207.1) 147.5px,rgb(209.0,209.0,209.0) 197.5px,rgb(209.8,209.8,209.8) 247.5px,rgb(210.1,210.1,210.1) 297.5px,rgb(210.2,210.2,210.2) 347.5px,rgb(210.2,210.2,210.2) 397.5px,rgb(210.2,210.2,210.2) 447.5px,rgb(210.2,210.2,210.2) 497.5px,rgb(210.2,210.2,210.2) 547.5px,rgb(210.1,210.1,210.1) 597.5px,rgb(209.8,209.8,209.8) 647.5px,rgb(209.0,209.0,209.0) 697.5px,rgb(207.1,207.1,207.1) 747.5px,rgb(203.3,203.3,203.3) 797.5px,rgb(196.9,196.9,196.9) 847.5px,rgb(187.9,187.9,187.9) 895.0px)"></div><div style="top:481px;height:4px;background:linear-gradient(90deg,rgb(187.4,187.4,187.4) 0.0px,rgb(196.5,196.5,196.5) 47.5px,rgb(202.8,202.8,202.8) 97.5px,rgb(206.5,206.5,206.5) 147.5px,rgb(208.4,208.4,208.4) 197.5px,rgb(209.2,209.2,209.2) 247.5px,rgb(209.5,209.5,209.5) 297.5px,rgb(209.6,209.6,209.6) 347.5px,rgb(209.6,209.6,209.6) 397.5px,rgb(209.6,209.6,209.6) 447.5px,rgb(209.6,209.6,209.6) 497.5px,rgb(209.6,209.6,209.6) 547.5px,rgb(209.5,209.5,209.5) 597.5px,rgb(209.2,209.2,209.2) 647.5px,rgb(208.4,208.4,208.4) 697.5px,rgb(206.5,206.5,206.5) 747.5px,rgb(202.8,202.8,202.8) 797.5px,rgb(196.5,196.5,196.5) 847.5px,rgb(187.4,187.4,187.4) 895.0px)"></div></div>
<svg width="895" height="485" viewBox="0 0 895 485">
<rect x="0" y="0" width="895" height="1" fill="#bcbcbc"/>
<text x="351.2" y="45.7" class="ttl" textLength="190.9" lengthAdjust="spacingAndGlyphs">Prioridad Alta</text>
<rect x="19" y="78" width="857" height="1" fill="rgba(183,183,183,0.32)"/>
<rect x="19" y="131" width="857" height="1" fill="rgba(200,200,200,0.5)"/>
<rect x="19" y="185" width="857" height="1" fill="rgba(180,180,180,0.45)"/>
<rect x="19" y="239" width="857" height="1" fill="rgba(165,165,165,0.56)"/>
<rect x="19" y="293" width="857" height="1" fill="rgba(145,145,145,0.71)"/>
<rect x="19" y="347" width="857" height="1" fill="rgba(125,125,125,0.79)"/>
<rect x="32" y="173" width="35" height="227" fill="rgba(68,114,196,0.85)"/>
<rect x="31" y="172" width="37" height="1" fill="rgba(68,114,196,0.4)"/>
<rect x="31" y="173" width="1" height="227" fill="rgba(68,114,196,0.4)"/>
<rect x="67" y="173" width="1" height="227" fill="rgba(68,114,196,0.4)"/>
<rect x="31" y="172" width="37" height="1" fill="rgba(255,255,255,0.55)"/>
<rect x="31" y="173" width="1" height="227" fill="rgba(255,255,255,0.55)"/>
<rect x="67" y="173" width="1" height="227" fill="rgba(255,255,255,0.55)"/>
<rect x="68" y="375" width="34" height="25" fill="rgba(237,125,49,0.85)"/>
<rect x="67" y="374" width="36" height="1" fill="rgba(237,125,49,0.4)"/>
<rect x="67" y="375" width="1" height="25" fill="rgba(237,125,49,0.4)"/>
<rect x="102" y="375" width="1" height="25" fill="rgba(237,125,49,0.4)"/>
<rect x="67" y="374" width="36" height="1" fill="rgba(255,255,255,0.55)"/>
<rect x="67" y="375" width="1" height="25" fill="rgba(255,255,255,0.55)"/>
<rect x="102" y="375" width="1" height="25" fill="rgba(255,255,255,0.55)"/>
<rect x="127" y="159" width="35" height="241" fill="rgba(68,114,196,0.85)"/>
<rect x="126" y="158" width="37" height="1" fill="rgba(68,114,196,0.4)"/>
<rect x="126" y="159" width="1" height="241" fill="rgba(68,114,196,0.4)"/>
<rect x="162" y="159" width="1" height="241" fill="rgba(68,114,196,0.4)"/>
<rect x="126" y="158" width="37" height="1" fill="rgba(255,255,255,0.55)"/>
<rect x="126" y="159" width="1" height="241" fill="rgba(255,255,255,0.55)"/>
<rect x="162" y="159" width="1" height="241" fill="rgba(255,255,255,0.55)"/>
<rect x="163" y="159" width="35" height="241" fill="rgba(237,125,49,0.85)"/>
<rect x="162" y="158" width="37" height="1" fill="rgba(237,125,49,0.4)"/>
<rect x="162" y="159" width="1" height="241" fill="rgba(237,125,49,0.4)"/>
<rect x="198" y="159" width="1" height="241" fill="rgba(237,125,49,0.4)"/>
<rect x="162" y="158" width="37" height="1" fill="rgba(255,255,255,0.55)"/>
<rect x="162" y="159" width="1" height="241" fill="rgba(255,255,255,0.55)"/>
<rect x="198" y="159" width="1" height="241" fill="rgba(255,255,255,0.55)"/>
<rect x="222" y="146" width="35" height="254" fill="rgba(68,114,196,0.85)"/>
<rect x="221" y="145" width="37" height="1" fill="rgba(68,114,196,0.4)"/>
<rect x="221" y="146" width="1" height="254" fill="rgba(68,114,196,0.4)"/>
<rect x="257" y="146" width="1" height="254" fill="rgba(68,114,196,0.4)"/>
<rect x="221" y="145" width="37" height="1" fill="rgba(255,255,255,0.55)"/>
<rect x="221" y="146" width="1" height="254" fill="rgba(255,255,255,0.55)"/>
<rect x="257" y="146" width="1" height="254" fill="rgba(255,255,255,0.55)"/>
<rect x="258" y="240" width="35" height="160" fill="rgba(237,125,49,0.85)"/>
<rect x="257" y="239" width="37" height="1" fill="rgba(237,125,49,0.4)"/>
<rect x="257" y="240" width="1" height="160" fill="rgba(237,125,49,0.4)"/>
<rect x="293" y="240" width="1" height="160" fill="rgba(237,125,49,0.4)"/>
<rect x="257" y="239" width="37" height="1" fill="rgba(255,255,255,0.55)"/>
<rect x="257" y="240" width="1" height="160" fill="rgba(255,255,255,0.55)"/>
<rect x="293" y="240" width="1" height="160" fill="rgba(255,255,255,0.55)"/>
<rect x="317" y="294" width="35" height="106" fill="rgba(68,114,196,0.85)"/>
<rect x="316" y="293" width="37" height="1" fill="rgba(68,114,196,0.4)"/>
<rect x="316" y="294" width="1" height="106" fill="rgba(68,114,196,0.4)"/>
<rect x="352" y="294" width="1" height="106" fill="rgba(68,114,196,0.4)"/>
<rect x="316" y="293" width="37" height="1" fill="rgba(255,255,255,0.55)"/>
<rect x="316" y="294" width="1" height="106" fill="rgba(255,255,255,0.55)"/>
<rect x="352" y="294" width="1" height="106" fill="rgba(255,255,255,0.55)"/>
<rect x="353" y="132" width="35" height="268" fill="rgba(237,125,49,0.85)"/>
<rect x="352" y="131" width="37" height="1" fill="rgba(237,125,49,0.4)"/>
<rect x="352" y="132" width="1" height="268" fill="rgba(237,125,49,0.4)"/>
<rect x="388" y="132" width="1" height="268" fill="rgba(237,125,49,0.4)"/>
<rect x="352" y="131" width="37" height="1" fill="rgba(255,255,255,0.55)"/>
<rect x="352" y="132" width="1" height="268" fill="rgba(255,255,255,0.55)"/>
<rect x="388" y="132" width="1" height="268" fill="rgba(255,255,255,0.55)"/>
<rect x="412" y="213" width="35" height="187" fill="rgba(68,114,196,0.85)"/>
<rect x="411" y="212" width="37" height="1" fill="rgba(68,114,196,0.4)"/>
<rect x="411" y="213" width="1" height="187" fill="rgba(68,114,196,0.4)"/>
<rect x="447" y="213" width="1" height="187" fill="rgba(68,114,196,0.4)"/>
<rect x="411" y="212" width="37" height="1" fill="rgba(255,255,255,0.55)"/>
<rect x="411" y="213" width="1" height="187" fill="rgba(255,255,255,0.55)"/>
<rect x="447" y="213" width="1" height="187" fill="rgba(255,255,255,0.55)"/>
<rect x="448" y="375" width="35" height="25" fill="rgba(237,125,49,0.85)"/>
<rect x="447" y="374" width="37" height="1" fill="rgba(237,125,49,0.4)"/>
<rect x="447" y="375" width="1" height="25" fill="rgba(237,125,49,0.4)"/>
<rect x="483" y="375" width="1" height="25" fill="rgba(237,125,49,0.4)"/>
<rect x="447" y="374" width="37" height="1" fill="rgba(255,255,255,0.55)"/>
<rect x="447" y="375" width="1" height="25" fill="rgba(255,255,255,0.55)"/>
<rect x="483" y="375" width="1" height="25" fill="rgba(255,255,255,0.55)"/>
<rect x="507" y="159" width="35" height="241" fill="rgba(68,114,196,0.85)"/>
<rect x="506" y="158" width="37" height="1" fill="rgba(68,114,196,0.4)"/>
<rect x="506" y="159" width="1" height="241" fill="rgba(68,114,196,0.4)"/>
<rect x="542" y="159" width="1" height="241" fill="rgba(68,114,196,0.4)"/>
<rect x="506" y="158" width="37" height="1" fill="rgba(255,255,255,0.55)"/>
<rect x="506" y="159" width="1" height="241" fill="rgba(255,255,255,0.55)"/>
<rect x="542" y="159" width="1" height="241" fill="rgba(255,255,255,0.55)"/>
<rect x="543" y="159" width="35" height="241" fill="rgba(237,125,49,0.85)"/>
<rect x="542" y="158" width="37" height="1" fill="rgba(237,125,49,0.4)"/>
<rect x="542" y="159" width="1" height="241" fill="rgba(237,125,49,0.4)"/>
<rect x="578" y="159" width="1" height="241" fill="rgba(237,125,49,0.4)"/>
<rect x="542" y="158" width="37" height="1" fill="rgba(255,255,255,0.55)"/>
<rect x="542" y="159" width="1" height="241" fill="rgba(255,255,255,0.55)"/>
<rect x="578" y="159" width="1" height="241" fill="rgba(255,255,255,0.55)"/>
<rect x="602" y="132" width="35" height="268" fill="rgba(68,114,196,0.85)"/>
<rect x="601" y="131" width="37" height="1" fill="rgba(68,114,196,0.4)"/>
<rect x="601" y="132" width="1" height="268" fill="rgba(68,114,196,0.4)"/>
<rect x="637" y="132" width="1" height="268" fill="rgba(68,114,196,0.4)"/>
<rect x="601" y="131" width="37" height="1" fill="rgba(255,255,255,0.55)"/>
<rect x="601" y="132" width="1" height="268" fill="rgba(255,255,255,0.55)"/>
<rect x="637" y="132" width="1" height="268" fill="rgba(255,255,255,0.55)"/>
<rect x="638" y="267" width="35" height="133" fill="rgba(237,125,49,0.85)"/>
<rect x="637" y="266" width="37" height="1" fill="rgba(237,125,49,0.4)"/>
<rect x="637" y="267" width="1" height="133" fill="rgba(237,125,49,0.4)"/>
<rect x="673" y="267" width="1" height="133" fill="rgba(237,125,49,0.4)"/>
<rect x="637" y="266" width="37" height="1" fill="rgba(255,255,255,0.55)"/>
<rect x="637" y="267" width="1" height="133" fill="rgba(255,255,255,0.55)"/>
<rect x="673" y="267" width="1" height="133" fill="rgba(255,255,255,0.55)"/>
<rect x="697" y="186" width="35" height="214" fill="rgba(68,114,196,0.85)"/>
<rect x="696" y="185" width="37" height="1" fill="rgba(68,114,196,0.4)"/>
<rect x="696" y="186" width="1" height="214" fill="rgba(68,114,196,0.4)"/>
<rect x="732" y="186" width="1" height="214" fill="rgba(68,114,196,0.4)"/>
<rect x="696" y="185" width="37" height="1" fill="rgba(255,255,255,0.55)"/>
<rect x="696" y="186" width="1" height="214" fill="rgba(255,255,255,0.55)"/>
<rect x="732" y="186" width="1" height="214" fill="rgba(255,255,255,0.55)"/>
<rect x="733" y="213" width="35" height="187" fill="rgba(237,125,49,0.85)"/>
<rect x="732" y="212" width="37" height="1" fill="rgba(237,125,49,0.4)"/>
<rect x="732" y="213" width="1" height="187" fill="rgba(237,125,49,0.4)"/>
<rect x="768" y="213" width="1" height="187" fill="rgba(237,125,49,0.4)"/>
<rect x="732" y="212" width="37" height="1" fill="rgba(255,255,255,0.55)"/>
<rect x="732" y="213" width="1" height="187" fill="rgba(255,255,255,0.55)"/>
<rect x="768" y="213" width="1" height="187" fill="rgba(255,255,255,0.55)"/>
<rect x="793" y="132" width="34" height="268" fill="rgba(68,114,196,0.85)"/>
<rect x="792" y="131" width="36" height="1" fill="rgba(68,114,196,0.4)"/>
<rect x="792" y="132" width="1" height="268" fill="rgba(68,114,196,0.4)"/>
<rect x="827" y="132" width="1" height="268" fill="rgba(68,114,196,0.4)"/>
<rect x="792" y="131" width="36" height="1" fill="rgba(255,255,255,0.55)"/>
<rect x="792" y="132" width="1" height="268" fill="rgba(255,255,255,0.55)"/>
<rect x="827" y="132" width="1" height="268" fill="rgba(255,255,255,0.55)"/>
<rect x="828" y="132" width="35" height="268" fill="rgba(237,125,49,0.85)"/>
<rect x="827" y="131" width="37" height="1" fill="rgba(237,125,49,0.4)"/>
<rect x="827" y="132" width="1" height="268" fill="rgba(237,125,49,0.4)"/>
<rect x="863" y="132" width="1" height="268" fill="rgba(237,125,49,0.4)"/>
<rect x="827" y="131" width="37" height="1" fill="rgba(255,255,255,0.55)"/>
<rect x="827" y="132" width="1" height="268" fill="rgba(255,255,255,0.55)"/>
<rect x="863" y="132" width="1" height="268" fill="rgba(255,255,255,0.55)"/>
<rect x="19" y="400" width="857" height="3" fill="#3e3e3e"/>
<text x="49.12" y="196.70" text-anchor="middle" class="dl">85</text>
<text x="84.97" y="388.90" text-anchor="middle" class="dl">10</text>
<text x="27.56" y="427.6" class="cat" textLength="79.0" lengthAdjust="spacingAndGlyphs">OBJETIVO 1</text>
<text x="144.24" y="182.70" text-anchor="middle" class="dl">90</text>
<text x="180.08" y="182.70" text-anchor="middle" class="dl">90</text>
<text x="122.66" y="427.6" class="cat" textLength="79.0" lengthAdjust="spacingAndGlyphs">OBJETIVO 2</text>
<text x="239.34" y="169.70" text-anchor="middle" class="dl">95</text>
<text x="275.19" y="263.70" text-anchor="middle" class="dl">60</text>
<text x="217.77" y="427.6" class="cat" textLength="79.0" lengthAdjust="spacingAndGlyphs">OBJETIVO 3</text>
<text x="334.45" y="317.70" text-anchor="middle" class="dl">40</text>
<text x="370.31" y="155.70" text-anchor="middle" class="dl">100</text>
<text x="312.88" y="427.6" class="cat" textLength="79.0" lengthAdjust="spacingAndGlyphs">OBJETIVO 4</text>
<text x="429.56" y="236.70" text-anchor="middle" class="dl">70</text>
<text x="465.42" y="388.90" text-anchor="middle" class="dl">10</text>
<text x="408.00" y="427.6" class="cat" textLength="79.0" lengthAdjust="spacingAndGlyphs">OBJETIVO 5</text>
<text x="524.67" y="182.70" text-anchor="middle" class="dl">90</text>
<text x="560.53" y="182.70" text-anchor="middle" class="dl">90</text>
<text x="503.11" y="427.6" class="cat" textLength="79.0" lengthAdjust="spacingAndGlyphs">OBJETIVO 6</text>
<text x="619.79" y="155.70" text-anchor="middle" class="dl">100</text>
<text x="655.63" y="290.70" text-anchor="middle" class="dl">50</text>
<text x="598.22" y="427.6" class="cat" textLength="79.0" lengthAdjust="spacingAndGlyphs">OBJETIVO 7</text>
<text x="714.89" y="209.70" text-anchor="middle" class="dl">80</text>
<text x="750.75" y="236.70" text-anchor="middle" class="dl">70</text>
<text x="693.33" y="427.6" class="cat" textLength="79.0" lengthAdjust="spacingAndGlyphs">OBJETIVO 8</text>
<text x="810.01" y="155.70" text-anchor="middle" class="dl">100</text>
<text x="845.86" y="155.70" text-anchor="middle" class="dl">100</text>
<text x="788.43" y="427.6" class="cat" textLength="79.0" lengthAdjust="spacingAndGlyphs">OBJETIVO 9</text>
<rect x="328" y="445" width="239" height="30.5" fill="rgba(255,255,255,0.4)"/>
<rect x="348" y="456" width="8" height="8" fill="rgba(68,114,196,0.85)"/>
<text x="360.35" y="464.6" class="leg" textLength="60.7" lengthAdjust="spacingAndGlyphs">Acciones</text>
<rect x="440" y="456" width="8" height="8" fill="rgba(237,125,49,0.85)"/>
<text x="451.9" y="464.6" class="leg" textLength="102.8" lengthAdjust="spacingAndGlyphs">Objetivo Smart</text>
</svg>
</body></html>
